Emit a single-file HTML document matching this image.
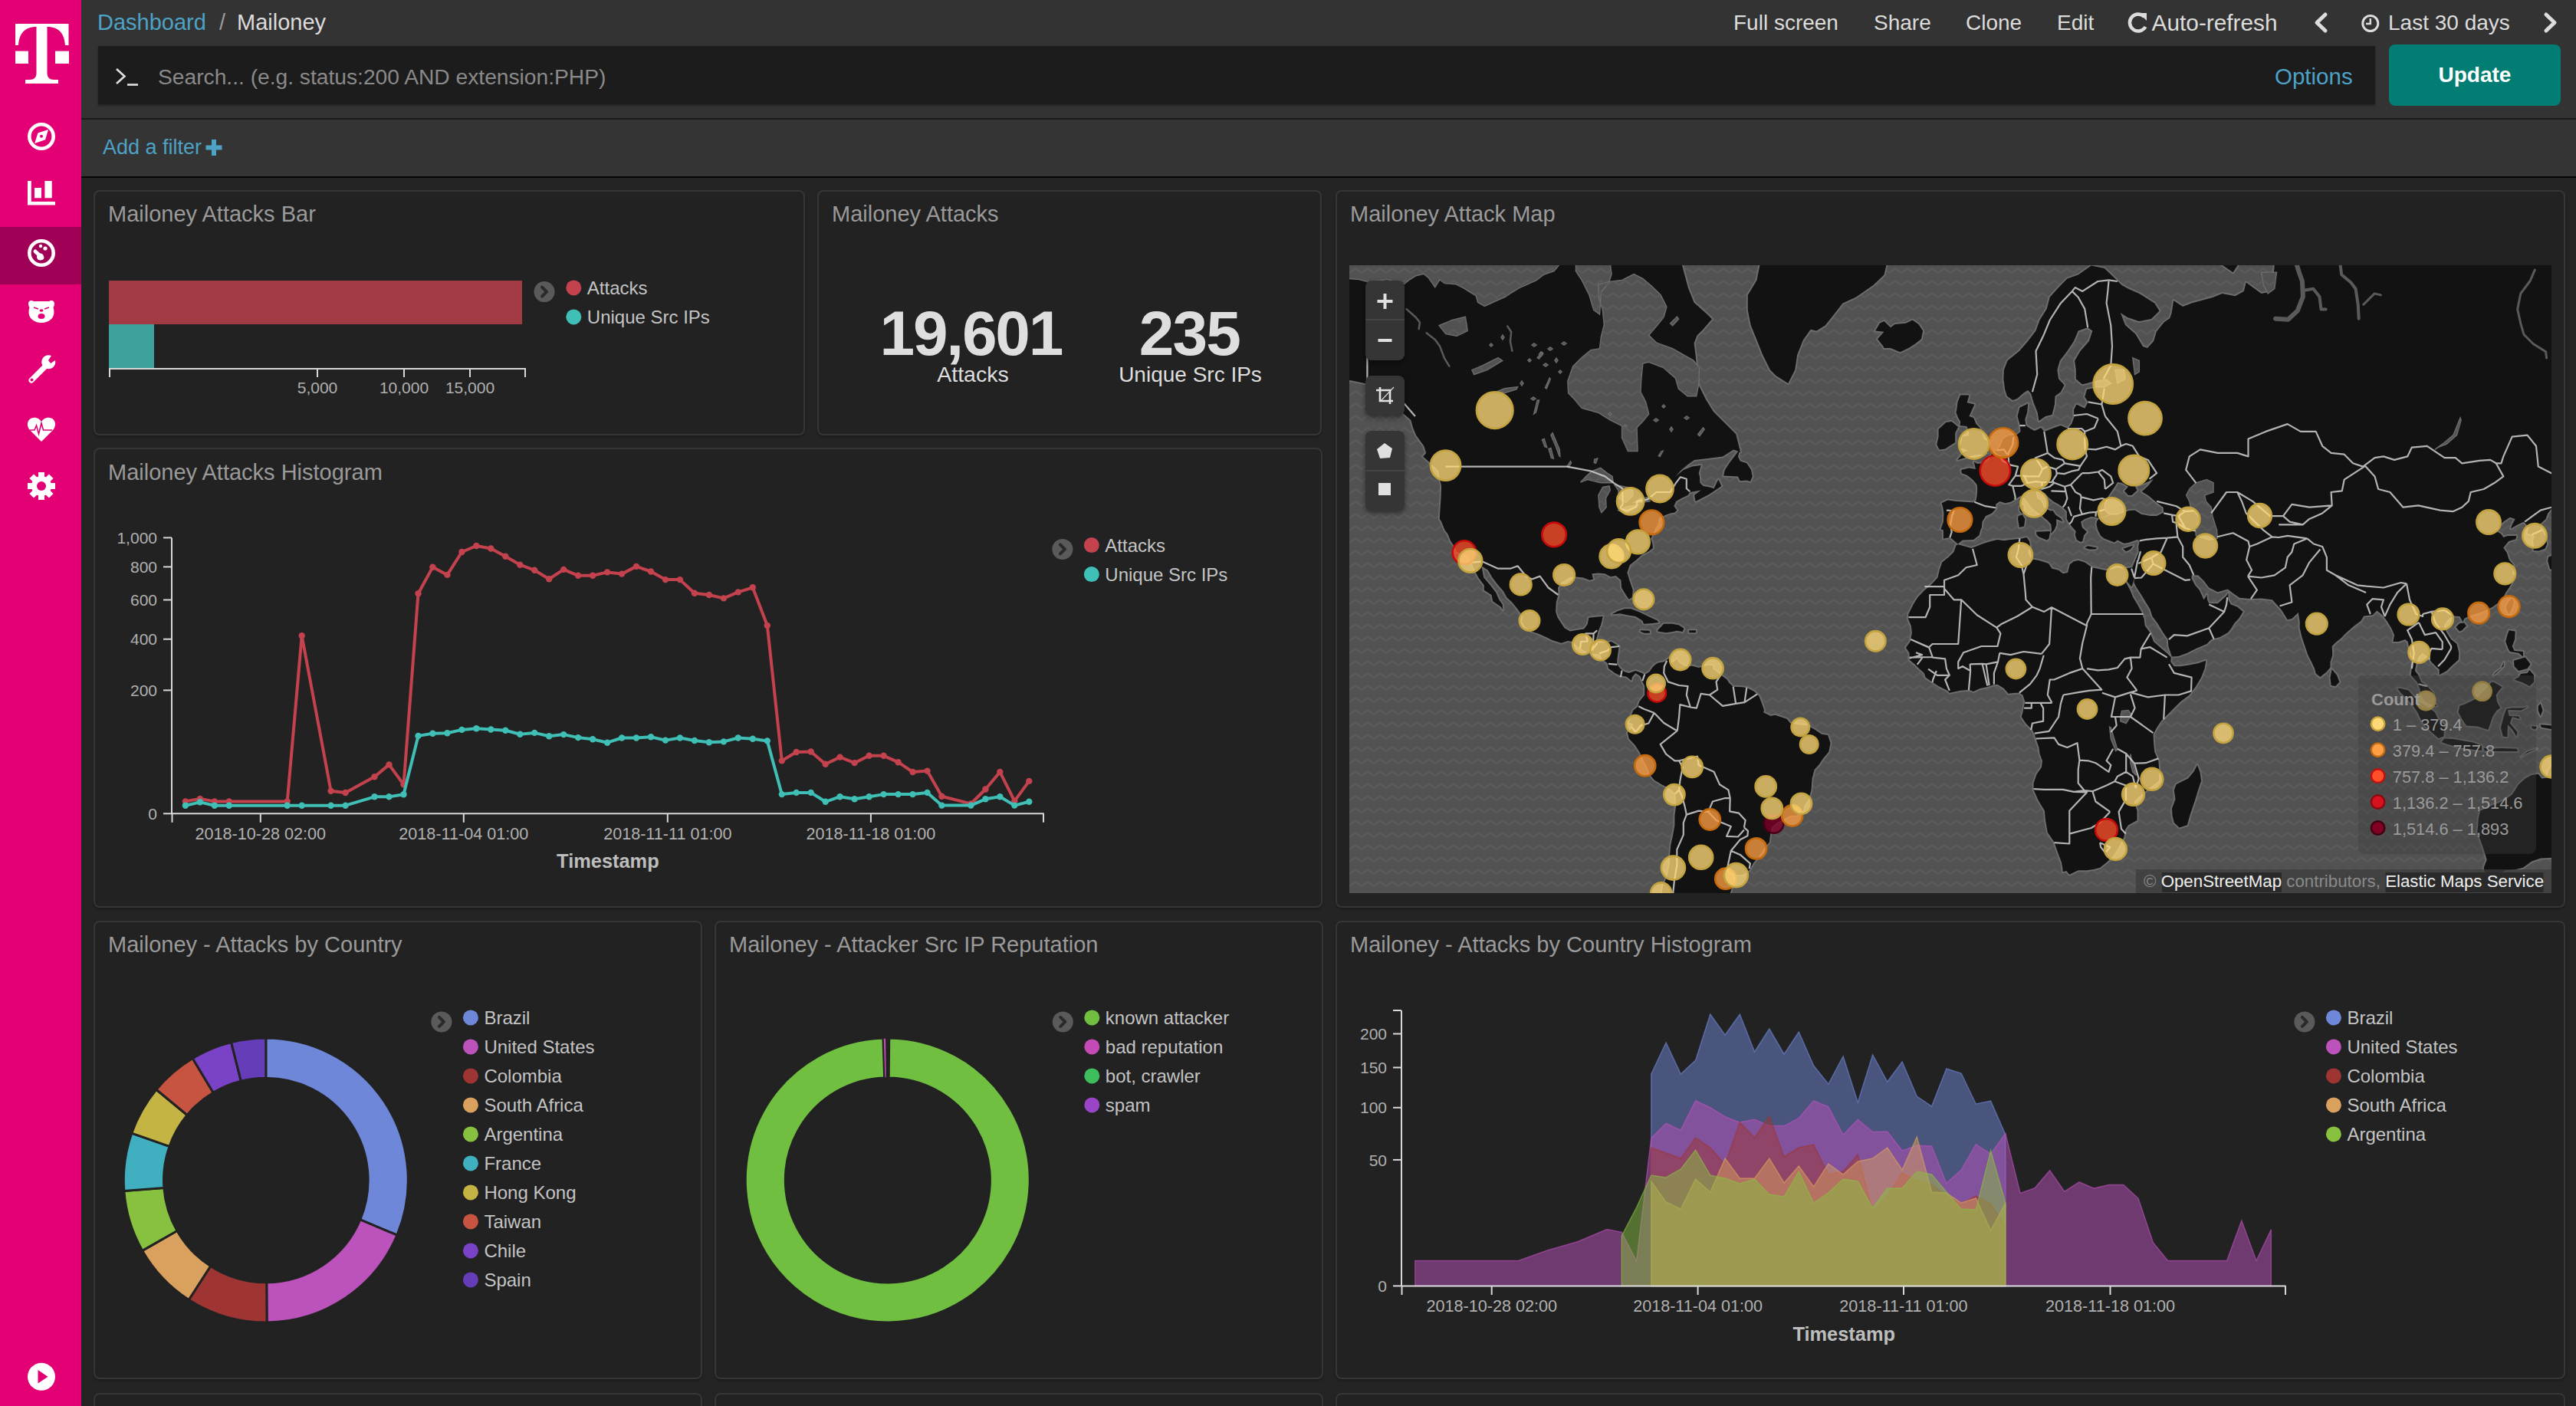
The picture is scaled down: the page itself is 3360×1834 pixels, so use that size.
<!DOCTYPE html><html><head><meta charset="utf-8"><title>Mailoney - Dashboard</title><style>
*{margin:0;padding:0;box-sizing:border-box}
html,body{width:3360px;height:1834px;overflow:hidden;background:#242424;font-family:"Liberation Sans",sans-serif}
.a{position:absolute}
.t{position:absolute;line-height:1;white-space:nowrap}
.panel{position:absolute;border:2px solid #363636;border-radius:8px;background:#222;box-shadow:0 2px 3px rgba(0,0,0,0.25)}
svg{position:absolute;overflow:visible}
svg text{font-family:"Liberation Sans",sans-serif}
</style></head><body>
<div class="a" style="left:106px;top:0;width:3254px;height:154px;background:#333"></div>
<div class="a" style="left:106px;top:154px;width:3254px;height:2px;background:#1c1c1c"></div>
<div class="a" style="left:106px;top:156px;width:3254px;height:74px;background:#343434"></div>
<div class="a" style="left:106px;top:230px;width:3254px;height:2px;background:#050505"></div>
<div class="t" style="left:127.0px;top:15.4px;font-size:29px;color:#4da2c6;">Dashboard</div>
<div class="t" style="left:286.0px;top:15.4px;font-size:29px;color:#9a9a9a;">/</div>
<div class="t" style="left:309.0px;top:15.4px;font-size:29px;color:#dcdcdc;">Mailoney</div>
<div class="t" style="left:2261.0px;top:16.3px;font-size:28px;color:#dcdcdc;">Full screen</div>
<div class="t" style="left:2444.0px;top:16.3px;font-size:28px;color:#dcdcdc;">Share</div>
<div class="t" style="left:2564.0px;top:16.3px;font-size:28px;color:#dcdcdc;">Clone</div>
<div class="t" style="left:2683.0px;top:16.3px;font-size:28px;color:#dcdcdc;">Edit</div>
<div class="t" style="left:2806.6px;top:14.8px;font-size:29.8px;color:#dcdcdc;">Auto-refresh</div>
<div class="t" style="left:3115.0px;top:16.3px;font-size:28px;color:#dcdcdc;">Last 30 days</div>
<svg style="left:0;top:0" width="3360" height="60"><path d="M2797,22 A11,11 0 1 0 2798.5,35" stroke="#dcdcdc" stroke-width="4.5" fill="none"/><path d="M2790,17 L2800,17 L2800,27 Z" fill="#dcdcdc"/><path d="M3033,19 L3022,29.5 L3033,40" stroke="#dcdcdc" stroke-width="5" fill="none" stroke-linecap="round" stroke-linejoin="round"/><circle cx="3091.8" cy="30.5" r="10" stroke="#dcdcdc" stroke-width="3" fill="none"/><path d="M3091.8,24 V31 H3086" stroke="#dcdcdc" stroke-width="2.5" fill="none"/><path d="M3321,19 L3332,29.5 L3321,40" stroke="#dcdcdc" stroke-width="5" fill="none" stroke-linecap="round" stroke-linejoin="round"/></svg>
<div class="a" style="left:128px;top:60px;width:2970px;height:76px;background:#1c1c1c;box-shadow:0 2px 3px rgba(0,0,0,0.35)"></div>
<svg style="left:0;top:0" width="400" height="140"><path d="M152,90 L162.5,99.5 L152,109" stroke="#e0e0e0" stroke-width="2.6" fill="none"/><path d="M166,110.5 H180" stroke="#e0e0e0" stroke-width="2.6"/></svg>
<div class="t" style="left:206.0px;top:86.1px;font-size:28.2px;color:#8a8a8a;">Search... (e.g. status:200 AND extension:PHP)</div>
<div class="t" style="left:2967.0px;top:84.5px;font-size:29.5px;color:#4da2c6;">Options</div>
<div class="a" style="left:3116px;top:58px;width:224px;height:80px;background:#017d73;border-radius:8px"></div>
<div class="t" style="left:2728.0px;width:1000px;text-align:center;top:83.9px;font-size:28px;color:#ffffff;font-weight:700;">Update</div>
<div class="t" style="left:134.0px;top:178.8px;font-size:27px;color:#4da2c6;">Add a filter</div>
<svg style="left:0;top:0" width="400" height="240"><path d="M279,182 V203 M268.5,192.5 H289.5" stroke="#4da2c6" stroke-width="6"/></svg>
<div class="a" style="left:0;top:0;width:106px;height:1834px;background:#e20074"></div>
<div class="a" style="left:0;top:296px;width:106px;height:75px;background:#a00055"></div>
<svg style="left:0;top:0" width="106" height="1834"><g fill="#fff"><path d="M20,31 H89.5 V59 H85 C84,45 78,35 61.5,35 V95 C61.5,101 64.5,104 70.5,104 H76 V109 H33 V104 H38.5 C44.5,104 47.5,101 47.5,95 V35 C31,35 25,45 24,59 H20 Z"/><rect x="20" y="66.6" width="17" height="16.4"/><rect x="72" y="66.6" width="18" height="16.4"/></g><circle cx="54" cy="178" r="15.7" stroke="#fff" stroke-width="4.6" fill="none"/><path d="M45.2,187 L49.4,173.6 L63,169.1 L59.1,182.3 Z" fill="#fff"/><circle cx="54" cy="177.8" r="2" fill="#e20074"/><path d="M36,236 H40.8 V263 H72 V267.6 H36 Z" fill="#fff"/><rect x="45" y="245" width="9" height="13.3" fill="#fff"/><rect x="58.4" y="236" width="9.3" height="22.3" fill="#fff"/><circle cx="54" cy="330" r="15.7" stroke="#fff" stroke-width="4.6" fill="none"/><path d="M46,328 L55,336" stroke="#fff" stroke-width="5" stroke-linecap="round"/><circle cx="52.5" cy="335" r="4.5" fill="#fff"/><circle cx="59" cy="324" r="2.6" fill="#fff"/><circle cx="53" cy="321" r="2.2" fill="#fff"/><path d="M37,396 C37,392 41,391 44,393 L64,393 C67,391 71,392 71,396 C71,399 70,400 69.5,401 C71,406 71,412 67,416 C63,420 58,421 54,421 C50,421 45,420 41,416 C37,412 37,406 38.5,401 C38,400 37,399 37,396 Z" fill="#fff"/><path d="M44,401 L50,403 M64,401 L58,403" stroke="#e20074" stroke-width="1.8"/><ellipse cx="54" cy="405" rx="2.5" ry="1.8" fill="#e20074"/><ellipse cx="54" cy="412.5" rx="4.5" ry="3.5" fill="#e20074"/><path d="M41,496 L60,477" stroke="#fff" stroke-width="7" stroke-linecap="round"/><path d="M72,470 A9,9 0 1 1 67,464 L63,470 L66,474 Z" fill="#fff"/><circle cx="41.5" cy="495.5" r="2" fill="#e20074"/><path d="M54,576 L39,561 C34,556 35,546 43,545 C48,544 52,547 54,550 C56,547 60,544 65,545 C73,546 74,556 69,561 Z" fill="#fff"/><path d="M39,561 H45 L47.5,555 L50.5,566 L54,552 L56.5,561 H68" stroke="#e20074" stroke-width="1.6" fill="none"/><g transform="translate(54,634)"><circle r="13" fill="#fff"/><rect x="-4" y="-18" width="8" height="8" fill="#fff" transform="rotate(0)"/><rect x="-4" y="-18" width="8" height="8" fill="#fff" transform="rotate(45)"/><rect x="-4" y="-18" width="8" height="8" fill="#fff" transform="rotate(90)"/><rect x="-4" y="-18" width="8" height="8" fill="#fff" transform="rotate(135)"/><rect x="-4" y="-18" width="8" height="8" fill="#fff" transform="rotate(180)"/><rect x="-4" y="-18" width="8" height="8" fill="#fff" transform="rotate(225)"/><rect x="-4" y="-18" width="8" height="8" fill="#fff" transform="rotate(270)"/><rect x="-4" y="-18" width="8" height="8" fill="#fff" transform="rotate(315)"/><circle r="6" fill="#e20074"/></g><circle cx="54" cy="1795.8" r="18" fill="#fff"/><path d="M49.5,1787 L49.5,1804.5 L62.5,1795.8 Z" fill="#e20074"/></svg>
<div class="panel" style="left:122px;top:248px;width:928px;height:320px"></div>
<div class="t" style="left:141.0px;top:265.4px;font-size:29px;color:#9a9a9a;">Mailoney Attacks Bar</div>
<svg style="left:0;top:0" width="1" height="1"><rect x="142" y="366" width="539" height="57" fill="#a23a44"/><rect x="142" y="423" width="59" height="57" fill="#3ea29c"/><path d="M142,481 H686" stroke="#d8d8d8" stroke-width="2"/><path d="M143,480 V492" stroke="#d8d8d8" stroke-width="2"/><path d="M414,480 V492" stroke="#d8d8d8" stroke-width="2"/><path d="M527,480 V492" stroke="#d8d8d8" stroke-width="2"/><path d="M613,480 V492" stroke="#d8d8d8" stroke-width="2"/><path d="M685,480 V492" stroke="#d8d8d8" stroke-width="2"/><text x="414.0" y="513.0" font-size="21" fill="#b0b0b0" text-anchor="middle">5,000</text><text x="527.0" y="513.0" font-size="21" fill="#b0b0b0" text-anchor="middle">10,000</text><text x="613.0" y="513.0" font-size="21" fill="#b0b0b0" text-anchor="middle">15,000</text><circle cx="710" cy="380.6" r="13.5" fill="#5a5a5a"/><path d="M707,374.6 L713,380.6 L707,386.6" stroke="#2a2a2a" stroke-width="4" fill="none" stroke-linecap="round" stroke-linejoin="round"/><circle cx="748.3" cy="375.4" r="10" fill="#c4424e"/><text x="765.8" y="383.8" font-size="24" fill="#c4c4c4">Attacks</text><circle cx="748.3" cy="413.4" r="10" fill="#3fbfb5"/><text x="765.8" y="421.8" font-size="24" fill="#c4c4c4">Unique Src IPs</text></svg>
<div class="panel" style="left:1066px;top:248px;width:658px;height:320px"></div>
<div class="t" style="left:1085.0px;top:265.4px;font-size:29px;color:#9a9a9a;">Mailoney Attacks</div>
<div class="t" style="left:766.3px;width:1000px;text-align:center;top:394.2px;font-size:82px;color:#dedede;font-weight:700;letter-spacing:-2.2px;">19,601</div>
<div class="t" style="left:769.0px;width:1000px;text-align:center;top:474.4px;font-size:28.5px;color:#dedede;">Attacks</div>
<div class="t" style="left:1051.4px;width:1000px;text-align:center;top:394.2px;font-size:82px;color:#dedede;font-weight:700;letter-spacing:-1.9px;">235</div>
<div class="t" style="left:1052.5px;width:1000px;text-align:center;top:474.8px;font-size:28px;color:#dedede;">Unique Src IPs</div>
<div class="panel" style="left:122px;top:584px;width:1603px;height:600px"></div>
<div class="t" style="left:141.0px;top:602.4px;font-size:29px;color:#9a9a9a;">Mailoney Attacks Histogram</div>
<svg style="left:0;top:0" width="1" height="1"><path d="M224,1061.3 H1361.7 M224,701.4 V1061.3" stroke="#d8d8d8" stroke-width="2" fill="none"/><path d="M213,701.4 H224" stroke="#d8d8d8" stroke-width="2"/><text x="205.0" y="709.0" font-size="21" fill="#b0b0b0" text-anchor="end">1,000</text><path d="M213,739.4 H224" stroke="#d8d8d8" stroke-width="2"/><text x="205.0" y="747.0" font-size="21" fill="#b0b0b0" text-anchor="end">800</text><path d="M213,782.5 H224" stroke="#d8d8d8" stroke-width="2"/><text x="205.0" y="790.1" font-size="21" fill="#b0b0b0" text-anchor="end">600</text><path d="M213,833.7 H224" stroke="#d8d8d8" stroke-width="2"/><text x="205.0" y="841.3" font-size="21" fill="#b0b0b0" text-anchor="end">400</text><path d="M213,900.4 H224" stroke="#d8d8d8" stroke-width="2"/><text x="205.0" y="908.0" font-size="21" fill="#b0b0b0" text-anchor="end">200</text><path d="M213,1061.3 H224" stroke="#d8d8d8" stroke-width="2"/><text x="205.0" y="1068.9" font-size="21" fill="#b0b0b0" text-anchor="end">0</text><path d="M224.5,1061.3 V1072.8" stroke="#d8d8d8" stroke-width="2"/><path d="M339.8,1061.3 V1072.8" stroke="#d8d8d8" stroke-width="2"/><path d="M604.8,1061.3 V1072.8" stroke="#d8d8d8" stroke-width="2"/><path d="M870.8,1061.3 V1072.8" stroke="#d8d8d8" stroke-width="2"/><path d="M1135.9,1061.3 V1072.8" stroke="#d8d8d8" stroke-width="2"/><path d="M1361,1061.3 V1072.8" stroke="#d8d8d8" stroke-width="2"/><text x="339.8" y="1094.8" font-size="21.6" fill="#b0b0b0" text-anchor="middle">2018-10-28 02:00</text><text x="604.8" y="1094.8" font-size="21.6" fill="#b0b0b0" text-anchor="middle">2018-11-04 01:00</text><text x="870.8" y="1094.8" font-size="21.6" fill="#b0b0b0" text-anchor="middle">2018-11-11 01:00</text><text x="1135.9" y="1094.8" font-size="21.6" fill="#b0b0b0" text-anchor="middle">2018-11-18 01:00</text><text x="792.9" y="1132.3" font-size="25.4" fill="#bdbdbd" text-anchor="middle" font-weight="700">Timestamp</text><polyline points="241.9,1045.4 260.9,1041.9 279.8,1045.4 298.8,1045.4 374.7,1045.4 393.7,829.3 431.6,1031.8 450.6,1034.0 488.5,1013.2 507.5,997.4 526.5,1023.4 545.5,774.2 564.4,739.8 583.4,749.9 602.4,720.0 621.3,712.0 640.3,715.5 659.3,725.7 678.3,736.7 697.2,743.8 716.2,755.2 735.2,742.9 754.1,750.8 773.1,750.8 792.1,746.4 811.1,748.6 830.0,738.9 849.0,745.5 868.0,756.1 886.9,756.1 905.9,773.8 924.9,776.0 943.9,780.4 962.8,772.4 981.8,766.3 1000.8,816.0 1019.8,992.4 1038.7,981.0 1057.7,980.5 1076.7,996.8 1095.6,987.6 1114.6,995.1 1133.6,985.8 1152.6,985.8 1171.5,994.2 1190.5,1007.0 1209.5,1005.6 1228.4,1038.7 1266.4,1048.4 1285.4,1029.5 1304.3,1007.0 1323.3,1044.9 1342.3,1018.9" stroke="#c4424e" stroke-width="4" fill="none" stroke-linejoin="round"/><circle cx="241.9" cy="1045.4" r="4.2" fill="#c4424e"/><circle cx="260.9" cy="1041.9" r="4.2" fill="#c4424e"/><circle cx="279.8" cy="1045.4" r="4.2" fill="#c4424e"/><circle cx="298.8" cy="1045.4" r="4.2" fill="#c4424e"/><circle cx="374.7" cy="1045.4" r="4.2" fill="#c4424e"/><circle cx="393.7" cy="829.3" r="4.2" fill="#c4424e"/><circle cx="431.6" cy="1031.8" r="4.2" fill="#c4424e"/><circle cx="450.6" cy="1034.0" r="4.2" fill="#c4424e"/><circle cx="488.5" cy="1013.2" r="4.2" fill="#c4424e"/><circle cx="507.5" cy="997.4" r="4.2" fill="#c4424e"/><circle cx="526.5" cy="1023.4" r="4.2" fill="#c4424e"/><circle cx="545.5" cy="774.2" r="4.2" fill="#c4424e"/><circle cx="564.4" cy="739.8" r="4.2" fill="#c4424e"/><circle cx="583.4" cy="749.9" r="4.2" fill="#c4424e"/><circle cx="602.4" cy="720.0" r="4.2" fill="#c4424e"/><circle cx="621.3" cy="712.0" r="4.2" fill="#c4424e"/><circle cx="640.3" cy="715.5" r="4.2" fill="#c4424e"/><circle cx="659.3" cy="725.7" r="4.2" fill="#c4424e"/><circle cx="678.3" cy="736.7" r="4.2" fill="#c4424e"/><circle cx="697.2" cy="743.8" r="4.2" fill="#c4424e"/><circle cx="716.2" cy="755.2" r="4.2" fill="#c4424e"/><circle cx="735.2" cy="742.9" r="4.2" fill="#c4424e"/><circle cx="754.1" cy="750.8" r="4.2" fill="#c4424e"/><circle cx="773.1" cy="750.8" r="4.2" fill="#c4424e"/><circle cx="792.1" cy="746.4" r="4.2" fill="#c4424e"/><circle cx="811.1" cy="748.6" r="4.2" fill="#c4424e"/><circle cx="830.0" cy="738.9" r="4.2" fill="#c4424e"/><circle cx="849.0" cy="745.5" r="4.2" fill="#c4424e"/><circle cx="868.0" cy="756.1" r="4.2" fill="#c4424e"/><circle cx="886.9" cy="756.1" r="4.2" fill="#c4424e"/><circle cx="905.9" cy="773.8" r="4.2" fill="#c4424e"/><circle cx="924.9" cy="776.0" r="4.2" fill="#c4424e"/><circle cx="943.9" cy="780.4" r="4.2" fill="#c4424e"/><circle cx="962.8" cy="772.4" r="4.2" fill="#c4424e"/><circle cx="981.8" cy="766.3" r="4.2" fill="#c4424e"/><circle cx="1000.8" cy="816.0" r="4.2" fill="#c4424e"/><circle cx="1019.8" cy="992.4" r="4.2" fill="#c4424e"/><circle cx="1038.7" cy="981.0" r="4.2" fill="#c4424e"/><circle cx="1057.7" cy="980.5" r="4.2" fill="#c4424e"/><circle cx="1076.7" cy="996.8" r="4.2" fill="#c4424e"/><circle cx="1095.6" cy="987.6" r="4.2" fill="#c4424e"/><circle cx="1114.6" cy="995.1" r="4.2" fill="#c4424e"/><circle cx="1133.6" cy="985.8" r="4.2" fill="#c4424e"/><circle cx="1152.6" cy="985.8" r="4.2" fill="#c4424e"/><circle cx="1171.5" cy="994.2" r="4.2" fill="#c4424e"/><circle cx="1190.5" cy="1007.0" r="4.2" fill="#c4424e"/><circle cx="1209.5" cy="1005.6" r="4.2" fill="#c4424e"/><circle cx="1228.4" cy="1038.7" r="4.2" fill="#c4424e"/><circle cx="1266.4" cy="1048.4" r="4.2" fill="#c4424e"/><circle cx="1285.4" cy="1029.5" r="4.2" fill="#c4424e"/><circle cx="1304.3" cy="1007.0" r="4.2" fill="#c4424e"/><circle cx="1323.3" cy="1044.9" r="4.2" fill="#c4424e"/><circle cx="1342.3" cy="1018.9" r="4.2" fill="#c4424e"/><polyline points="241.9,1050.7 260.9,1046.3 279.8,1050.7 298.8,1050.7 374.7,1050.7 393.7,1050.7 431.6,1050.7 450.6,1050.7 488.5,1039.3 507.5,1039.3 526.5,1036.2 545.5,959.9 564.4,956.8 583.4,956.3 602.4,951.9 621.3,950.2 640.3,951.5 659.3,952.8 678.3,957.7 697.2,955.9 716.2,960.3 735.2,958.1 754.1,962.1 773.1,964.3 792.1,968.7 811.1,962.5 830.0,962.5 849.0,961.2 868.0,965.6 886.9,962.5 905.9,966.0 924.9,968.2 943.9,967.4 962.8,962.5 981.8,963.8 1000.8,966.4 1019.8,1036.1 1038.7,1033.9 1057.7,1033.9 1076.7,1045.8 1095.6,1039.2 1114.6,1042.3 1133.6,1039.2 1152.6,1036.1 1171.5,1036.1 1190.5,1036.1 1209.5,1033.9 1228.4,1050.6 1266.4,1050.6 1285.4,1042.3 1304.3,1039.2 1323.3,1050.6 1342.3,1045.8" stroke="#3fbfb5" stroke-width="4" fill="none" stroke-linejoin="round"/><circle cx="241.9" cy="1050.7" r="4.2" fill="#3fbfb5"/><circle cx="260.9" cy="1046.3" r="4.2" fill="#3fbfb5"/><circle cx="279.8" cy="1050.7" r="4.2" fill="#3fbfb5"/><circle cx="298.8" cy="1050.7" r="4.2" fill="#3fbfb5"/><circle cx="374.7" cy="1050.7" r="4.2" fill="#3fbfb5"/><circle cx="393.7" cy="1050.7" r="4.2" fill="#3fbfb5"/><circle cx="431.6" cy="1050.7" r="4.2" fill="#3fbfb5"/><circle cx="450.6" cy="1050.7" r="4.2" fill="#3fbfb5"/><circle cx="488.5" cy="1039.3" r="4.2" fill="#3fbfb5"/><circle cx="507.5" cy="1039.3" r="4.2" fill="#3fbfb5"/><circle cx="526.5" cy="1036.2" r="4.2" fill="#3fbfb5"/><circle cx="545.5" cy="959.9" r="4.2" fill="#3fbfb5"/><circle cx="564.4" cy="956.8" r="4.2" fill="#3fbfb5"/><circle cx="583.4" cy="956.3" r="4.2" fill="#3fbfb5"/><circle cx="602.4" cy="951.9" r="4.2" fill="#3fbfb5"/><circle cx="621.3" cy="950.2" r="4.2" fill="#3fbfb5"/><circle cx="640.3" cy="951.5" r="4.2" fill="#3fbfb5"/><circle cx="659.3" cy="952.8" r="4.2" fill="#3fbfb5"/><circle cx="678.3" cy="957.7" r="4.2" fill="#3fbfb5"/><circle cx="697.2" cy="955.9" r="4.2" fill="#3fbfb5"/><circle cx="716.2" cy="960.3" r="4.2" fill="#3fbfb5"/><circle cx="735.2" cy="958.1" r="4.2" fill="#3fbfb5"/><circle cx="754.1" cy="962.1" r="4.2" fill="#3fbfb5"/><circle cx="773.1" cy="964.3" r="4.2" fill="#3fbfb5"/><circle cx="792.1" cy="968.7" r="4.2" fill="#3fbfb5"/><circle cx="811.1" cy="962.5" r="4.2" fill="#3fbfb5"/><circle cx="830.0" cy="962.5" r="4.2" fill="#3fbfb5"/><circle cx="849.0" cy="961.2" r="4.2" fill="#3fbfb5"/><circle cx="868.0" cy="965.6" r="4.2" fill="#3fbfb5"/><circle cx="886.9" cy="962.5" r="4.2" fill="#3fbfb5"/><circle cx="905.9" cy="966.0" r="4.2" fill="#3fbfb5"/><circle cx="924.9" cy="968.2" r="4.2" fill="#3fbfb5"/><circle cx="943.9" cy="967.4" r="4.2" fill="#3fbfb5"/><circle cx="962.8" cy="962.5" r="4.2" fill="#3fbfb5"/><circle cx="981.8" cy="963.8" r="4.2" fill="#3fbfb5"/><circle cx="1000.8" cy="966.4" r="4.2" fill="#3fbfb5"/><circle cx="1019.8" cy="1036.1" r="4.2" fill="#3fbfb5"/><circle cx="1038.7" cy="1033.9" r="4.2" fill="#3fbfb5"/><circle cx="1057.7" cy="1033.9" r="4.2" fill="#3fbfb5"/><circle cx="1076.7" cy="1045.8" r="4.2" fill="#3fbfb5"/><circle cx="1095.6" cy="1039.2" r="4.2" fill="#3fbfb5"/><circle cx="1114.6" cy="1042.3" r="4.2" fill="#3fbfb5"/><circle cx="1133.6" cy="1039.2" r="4.2" fill="#3fbfb5"/><circle cx="1152.6" cy="1036.1" r="4.2" fill="#3fbfb5"/><circle cx="1171.5" cy="1036.1" r="4.2" fill="#3fbfb5"/><circle cx="1190.5" cy="1036.1" r="4.2" fill="#3fbfb5"/><circle cx="1209.5" cy="1033.9" r="4.2" fill="#3fbfb5"/><circle cx="1228.4" cy="1050.6" r="4.2" fill="#3fbfb5"/><circle cx="1266.4" cy="1050.6" r="4.2" fill="#3fbfb5"/><circle cx="1285.4" cy="1042.3" r="4.2" fill="#3fbfb5"/><circle cx="1304.3" cy="1039.2" r="4.2" fill="#3fbfb5"/><circle cx="1323.3" cy="1050.6" r="4.2" fill="#3fbfb5"/><circle cx="1342.3" cy="1045.8" r="4.2" fill="#3fbfb5"/><circle cx="1385.9" cy="716.4" r="13.5" fill="#5a5a5a"/><path d="M1382.9,710.4 L1388.9,716.4 L1382.9,722.4" stroke="#2a2a2a" stroke-width="4" fill="none" stroke-linecap="round" stroke-linejoin="round"/><circle cx="1423.8" cy="711.1" r="10" fill="#c4424e"/><text x="1441.3" y="719.5" font-size="24" fill="#c4c4c4">Attacks</text><circle cx="1423.8" cy="749.1" r="10" fill="#3fbfb5"/><text x="1441.3" y="757.5" font-size="24" fill="#c4c4c4">Unique Src IPs</text></svg>
<div class="panel" style="left:122px;top:1201px;width:794px;height:598px"></div>
<div class="t" style="left:141.0px;top:1218.4px;font-size:29px;color:#9a9a9a;">Mailoney - Attacks by Country</div>
<svg style="left:0;top:0" width="1" height="1"><path d="M346.80,1354.00 A185.5,185.5 0 0 1 517.93,1611.09 L469.77,1590.94 A133.3,133.3 0 0 0 346.80,1406.20 Z" fill="#6f87d8" stroke="#222" stroke-width="3"/><path d="M517.93,1611.09 A185.5,185.5 0 0 1 348.10,1725.00 L347.73,1672.80 A133.3,133.3 0 0 0 469.77,1590.94 Z" fill="#bc52bc" stroke="#222" stroke-width="3"/><path d="M348.10,1725.00 A185.5,185.5 0 0 1 246.31,1695.43 L274.59,1651.55 A133.3,133.3 0 0 0 347.73,1672.80 Z" fill="#9e3533" stroke="#222" stroke-width="3"/><path d="M246.31,1695.43 A185.5,185.5 0 0 1 185.67,1631.41 L231.01,1605.54 A133.3,133.3 0 0 0 274.59,1651.55 Z" fill="#daa05d" stroke="#222" stroke-width="3"/><path d="M185.67,1631.41 A185.5,185.5 0 0 1 161.82,1553.41 L213.88,1549.49 A133.3,133.3 0 0 0 231.01,1605.54 Z" fill="#88c040" stroke="#222" stroke-width="3"/><path d="M161.82,1553.41 A185.5,185.5 0 0 1 171.72,1478.19 L220.99,1495.44 A133.3,133.3 0 0 0 213.88,1549.49 Z" fill="#40b0c0" stroke="#222" stroke-width="3"/><path d="M171.72,1478.19 A185.5,185.5 0 0 1 203.87,1421.26 L244.09,1454.53 A133.3,133.3 0 0 0 220.99,1495.44 Z" fill="#c4b443" stroke="#222" stroke-width="3"/><path d="M203.87,1421.26 A185.5,185.5 0 0 1 251.26,1380.50 L278.15,1425.24 A133.3,133.3 0 0 0 244.09,1454.53 Z" fill="#c65440" stroke="#222" stroke-width="3"/><path d="M251.26,1380.50 A185.5,185.5 0 0 1 301.61,1359.59 L314.33,1410.22 A133.3,133.3 0 0 0 278.15,1425.24 Z" fill="#7a42c6" stroke="#222" stroke-width="3"/><path d="M301.61,1359.59 A185.5,185.5 0 0 1 346.80,1354.00 L346.80,1406.20 A133.3,133.3 0 0 0 314.33,1410.22 Z" fill="#663db8" stroke="#222" stroke-width="3"/><circle cx="575.9" cy="1332.9" r="13.5" fill="#5a5a5a"/><path d="M572.9,1326.9 L578.9,1332.9 L572.9,1338.9" stroke="#2a2a2a" stroke-width="4" fill="none" stroke-linecap="round" stroke-linejoin="round"/><circle cx="613.9" cy="1327.4" r="10" fill="#6f87d8"/><text x="631.4" y="1335.8" font-size="24" fill="#c4c4c4">Brazil</text><circle cx="613.9" cy="1365.4" r="10" fill="#bc52bc"/><text x="631.4" y="1373.8" font-size="24" fill="#c4c4c4">United States</text><circle cx="613.9" cy="1403.4" r="10" fill="#9e3533"/><text x="631.4" y="1411.8" font-size="24" fill="#c4c4c4">Colombia</text><circle cx="613.9" cy="1441.4" r="10" fill="#daa05d"/><text x="631.4" y="1449.8" font-size="24" fill="#c4c4c4">South Africa</text><circle cx="613.9" cy="1479.4" r="10" fill="#88c040"/><text x="631.4" y="1487.8" font-size="24" fill="#c4c4c4">Argentina</text><circle cx="613.9" cy="1517.4" r="10" fill="#40b0c0"/><text x="631.4" y="1525.8" font-size="24" fill="#c4c4c4">France</text><circle cx="613.9" cy="1555.4" r="10" fill="#c4b443"/><text x="631.4" y="1563.8" font-size="24" fill="#c4c4c4">Hong Kong</text><circle cx="613.9" cy="1593.4" r="10" fill="#c65440"/><text x="631.4" y="1601.8" font-size="24" fill="#c4c4c4">Taiwan</text><circle cx="613.9" cy="1631.4" r="10" fill="#7a42c6"/><text x="631.4" y="1639.8" font-size="24" fill="#c4c4c4">Chile</text><circle cx="613.9" cy="1669.4" r="10" fill="#663db8"/><text x="631.4" y="1677.8" font-size="24" fill="#c4c4c4">Spain</text></svg>
<div class="panel" style="left:932px;top:1201px;width:794px;height:598px"></div>
<div class="t" style="left:951.0px;top:1218.4px;font-size:29px;color:#9a9a9a;">Mailoney - Attacker Src IP Reputation</div>
<svg style="left:0;top:0" width="1" height="1"><path d="M1159.74,1353.91 A185.5,185.5 0 1 1 1151.97,1353.99 L1153.61,1405.97 A133.5,133.5 0 1 0 1159.20,1405.91 Z" fill="#70bf41" stroke="#222" stroke-width="3"/><path d="M1151.97,1353.99 A185.5,185.5 0 0 1 1155.86,1353.91 L1156.40,1405.91 A133.5,133.5 0 0 0 1153.61,1405.97 Z" fill="#c44ab5" stroke="#222" stroke-width="1.5"/><circle cx="1386.3" cy="1332.9" r="13.5" fill="#5a5a5a"/><path d="M1383.3,1326.9 L1389.3,1332.9 L1383.3,1338.9" stroke="#2a2a2a" stroke-width="4" fill="none" stroke-linecap="round" stroke-linejoin="round"/><circle cx="1424.3" cy="1327.4" r="10" fill="#70bf41"/><text x="1441.8" y="1335.8" font-size="24" fill="#c4c4c4">known attacker</text><circle cx="1424.3" cy="1365.4" r="10" fill="#c44ab5"/><text x="1441.8" y="1373.8" font-size="24" fill="#c4c4c4">bad reputation</text><circle cx="1424.3" cy="1403.4" r="10" fill="#3dbd5c"/><text x="1441.8" y="1411.8" font-size="24" fill="#c4c4c4">bot, crawler</text><circle cx="1424.3" cy="1441.4" r="10" fill="#9a44c8"/><text x="1441.8" y="1449.8" font-size="24" fill="#c4c4c4">spam</text></svg>
<div class="panel" style="left:1742px;top:1201px;width:1604px;height:598px"></div>
<div class="t" style="left:1761.0px;top:1218.4px;font-size:29px;color:#9a9a9a;">Mailoney - Attacks by Country Histogram</div>
<svg style="left:0;top:0" width="1" height="1"><polygon points="2153.8,1677.4 2153.8,1401.0 2173.1,1360.0 2192.3,1401.0 2211.6,1383.0 2230.8,1323.0 2250.1,1350.0 2269.3,1323.0 2288.6,1372.0 2307.8,1342.0 2327.1,1375.0 2346.3,1346.0 2365.6,1390.0 2384.8,1414.0 2404.1,1378.0 2423.3,1438.0 2442.6,1376.0 2461.8,1411.0 2481.1,1385.0 2500.3,1430.0 2519.6,1443.0 2538.8,1394.0 2558.1,1400.0 2577.3,1440.0 2596.6,1436.0 2615.8,1480.0 2615.8,1677.4" fill="#6f87d8" fill-opacity="0.5" stroke="#6f87d8" stroke-opacity="0.6" stroke-width="1.5"/><polygon points="1845.8,1677.4 1845.8,1644.4 1980.5,1644.4 2019.0,1630.7 2057.6,1619.7 2096.1,1603.6 2115.3,1607.3 2134.6,1645.0 2153.8,1484.4 2173.1,1465.5 2192.3,1474.1 2211.6,1435.8 2230.8,1444.7 2250.1,1456.6 2269.3,1464.1 2288.6,1460.2 2307.8,1468.6 2327.1,1468.6 2346.3,1458.6 2365.6,1435.8 2384.8,1443.6 2404.1,1480.2 2423.3,1460.2 2442.6,1476.6 2461.8,1476.0 2481.1,1501.0 2500.3,1494.0 2519.6,1494.9 2538.8,1543.4 2558.1,1526.0 2577.3,1492.7 2596.6,1505.2 2615.8,1478.6 2635.1,1556.5 2654.3,1549.6 2673.6,1526.7 2692.8,1554.2 2712.1,1541.8 2731.3,1550.1 2750.6,1545.5 2769.8,1545.5 2789.1,1563.3 2808.3,1620.6 2827.6,1644.4 2904.6,1644.4 2923.8,1592.2 2943.1,1644.4 2962.3,1603.7 2962.3,1677.4" fill="#bc52bc" fill-opacity="0.5" stroke="#bc52bc" stroke-opacity="0.6" stroke-width="1.5"/><polygon points="2153.8,1677.4 2153.8,1497.0 2173.1,1504.0 2192.3,1511.0 2211.6,1484.0 2230.8,1497.0 2250.1,1519.0 2269.3,1464.0 2288.6,1484.0 2307.8,1456.0 2327.1,1509.0 2346.3,1497.0 2365.6,1493.0 2384.8,1532.0 2404.1,1528.0 2423.3,1506.0 2442.6,1580.0 2461.8,1560.0 2481.1,1530.0 2500.3,1540.0 2519.6,1545.0 2538.8,1560.0 2558.1,1570.0 2577.3,1560.0 2596.6,1570.0 2615.8,1600.0 2615.8,1677.4" fill="#9e3533" fill-opacity="0.5" stroke="#9e3533" stroke-opacity="0.6" stroke-width="1.5"/><polygon points="2153.8,1677.4 2153.8,1541.0 2173.1,1568.0 2192.3,1577.0 2211.6,1538.0 2230.8,1555.0 2250.1,1511.0 2269.3,1537.0 2288.6,1537.0 2307.8,1511.0 2327.1,1543.0 2346.3,1521.0 2365.6,1548.0 2384.8,1518.0 2404.1,1532.0 2423.3,1515.0 2442.6,1511.0 2461.8,1497.0 2481.1,1526.0 2500.3,1483.0 2519.6,1555.0 2538.8,1556.0 2558.1,1569.0 2577.3,1563.0 2596.6,1605.0 2615.8,1569.0 2615.8,1677.4" fill="#daa05d" fill-opacity="0.5" stroke="#daa05d" stroke-opacity="0.6" stroke-width="1.5"/><polygon points="2115.3,1677.4 2115.3,1612.0 2134.6,1575.0 2153.8,1533.0 2173.1,1536.0 2192.3,1525.0 2211.6,1500.0 2230.8,1533.0 2250.1,1537.0 2269.3,1544.0 2288.6,1538.0 2307.8,1558.0 2327.1,1561.0 2346.3,1528.0 2365.6,1569.0 2384.8,1556.0 2404.1,1538.0 2423.3,1541.0 2442.6,1576.0 2461.8,1550.0 2481.1,1550.0 2500.3,1528.0 2519.6,1532.0 2538.8,1555.0 2558.1,1577.0 2577.3,1578.0 2596.6,1501.0 2615.8,1569.0 2615.8,1677.4" fill="#88c040" fill-opacity="0.5" stroke="#88c040" stroke-opacity="0.6" stroke-width="1.5"/><path d="M1828,1677.4 H2981.6 M1828,1318.3 V1677.4" stroke="#d8d8d8" stroke-width="2" fill="none"/><path d="M1817,1318.0 H1828" stroke="#d8d8d8" stroke-width="2"/><path d="M1817,1348.5 H1828" stroke="#d8d8d8" stroke-width="2"/><text x="1809.0" y="1356.1" font-size="21" fill="#b0b0b0" text-anchor="end">200</text><path d="M1817,1392.5 H1828" stroke="#d8d8d8" stroke-width="2"/><text x="1809.0" y="1400.1" font-size="21" fill="#b0b0b0" text-anchor="end">150</text><path d="M1817,1444.8 H1828" stroke="#d8d8d8" stroke-width="2"/><text x="1809.0" y="1452.4" font-size="21" fill="#b0b0b0" text-anchor="end">100</text><path d="M1817,1512.9 H1828" stroke="#d8d8d8" stroke-width="2"/><text x="1809.0" y="1520.5" font-size="21" fill="#b0b0b0" text-anchor="end">50</text><path d="M1817,1677.4 H1828" stroke="#d8d8d8" stroke-width="2"/><text x="1809.0" y="1685.0" font-size="21" fill="#b0b0b0" text-anchor="end">0</text><path d="M1828.5,1677.4 V1689" stroke="#d8d8d8" stroke-width="2"/><path d="M1945.7,1677.4 V1689" stroke="#d8d8d8" stroke-width="2"/><path d="M2214.6,1677.4 V1689" stroke="#d8d8d8" stroke-width="2"/><path d="M2483,1677.4 V1689" stroke="#d8d8d8" stroke-width="2"/><path d="M2752.5,1677.4 V1689" stroke="#d8d8d8" stroke-width="2"/><path d="M2981,1677.4 V1689" stroke="#d8d8d8" stroke-width="2"/><text x="1945.7" y="1710.8" font-size="21.6" fill="#b0b0b0" text-anchor="middle">2018-10-28 02:00</text><text x="2214.6" y="1710.8" font-size="21.6" fill="#b0b0b0" text-anchor="middle">2018-11-04 01:00</text><text x="2483.0" y="1710.8" font-size="21.6" fill="#b0b0b0" text-anchor="middle">2018-11-11 01:00</text><text x="2752.5" y="1710.8" font-size="21.6" fill="#b0b0b0" text-anchor="middle">2018-11-18 01:00</text><text x="2405.2" y="1748.9" font-size="25.4" fill="#bdbdbd" text-anchor="middle" font-weight="700">Timestamp</text><circle cx="3005.9" cy="1332.9" r="13.5" fill="#5a5a5a"/><path d="M3002.9,1326.9 L3008.9,1332.9 L3002.9,1338.9" stroke="#2a2a2a" stroke-width="4" fill="none" stroke-linecap="round" stroke-linejoin="round"/><circle cx="3043.9" cy="1327.4" r="10" fill="#6f87d8"/><text x="3061.4" y="1335.8" font-size="24" fill="#c4c4c4">Brazil</text><circle cx="3043.9" cy="1365.4" r="10" fill="#bc52bc"/><text x="3061.4" y="1373.8" font-size="24" fill="#c4c4c4">United States</text><circle cx="3043.9" cy="1403.4" r="10" fill="#9e3533"/><text x="3061.4" y="1411.8" font-size="24" fill="#c4c4c4">Colombia</text><circle cx="3043.9" cy="1441.4" r="10" fill="#daa05d"/><text x="3061.4" y="1449.8" font-size="24" fill="#c4c4c4">South Africa</text><circle cx="3043.9" cy="1479.4" r="10" fill="#88c040"/><text x="3061.4" y="1487.8" font-size="24" fill="#c4c4c4">Argentina</text></svg>
<div class="panel" style="left:122px;top:1817px;width:794px;height:100px"></div>
<div class="panel" style="left:932px;top:1817px;width:794px;height:100px"></div>
<div class="panel" style="left:1742px;top:1817px;width:1604px;height:100px"></div>
<div class="panel" style="left:1742px;top:248px;width:1604px;height:936px"></div>
<div class="t" style="left:1761.0px;top:265.4px;font-size:29px;color:#9a9a9a;">Mailoney Attack Map</div>
<div class="a" style="left:1760px;top:346px;width:1568px;height:819px;overflow:hidden;background:#525252"><svg style="left:0;top:0" width="1568" height="819" viewBox="0 0 1568 819"><defs><pattern id="wv" width="16" height="16" patternUnits="userSpaceOnUse"><path d="M-1,11 L8,4 L17,11" stroke="#5a5a5a" stroke-width="2.2" fill="none"/></pattern></defs><rect width="1568" height="819" fill="url(#wv)"/><path d="M-39.2,-77.6L472.8,-77.6L434.0,0.0L441.8,29.2L449.6,48.7L467.1,64.3L473.0,70.2L461.3,83.8L453.5,91.6L449.6,101.4L451.5,117.0L453.5,136.5L455.4,156.0L465.2,175.4L474.9,191.0L490.5,206.6L504.2,220.3L510.0,243.7L501.2,240.4L487.0,249.4L467.1,252.1L450.0,253.9L441.5,260.0L433.0,266.9L425.6,275.4L435.8,266.9L447.2,262.6L458.6,260.9L455.7,271.2L456.9,275.4L457.4,283.8L461.4,287.9L469.9,289.5L475.6,291.2L481.3,279.6L485.3,287.9L469.9,298.4L451.7,307.9L450.0,300.0L458.6,293.6L444.3,296.0L441.5,300.0L433.0,304.0L426.1,307.9L423.3,314.2L427.3,319.6L424.4,322.6L418.7,323.4L413.1,325.6L405.7,328.7L403.4,330.9L402.8,338.3L399.4,342.7L398.3,345.6L394.9,352.9L393.1,356.4L395.4,363.5L396.0,369.1L390.3,373.3L381.8,377.4L374.4,384.2L365.8,391.0L362.4,401.0L365.3,410.8L369.8,423.7L368.7,433.2L364.7,435.7L360.7,430.0L355.0,420.5L354.5,410.8L347.6,404.9L340.8,406.2L333.4,402.3L324.9,401.6L316.3,402.3L318.1,409.5L313.5,410.8L305.0,407.5L293.6,406.2L286.8,407.5L276.5,414.0L272.0,420.5L272.5,430.0L269.7,439.5L269.1,451.9L271.4,459.2L276.5,467.1L280.5,473.2L287.9,477.4L299.3,475.6L306.1,474.4L310.7,468.3L312.4,459.8L324.9,458.6L330.6,458.0L329.4,464.1L327.7,470.2L324.9,476.8L323.2,483.4L320.9,491.1L323.7,492.3L336.3,492.3L341.9,491.1L351.6,497.0L350.5,505.8L349.3,514.5L349.3,520.3L353.3,526.1L359.0,530.2L364.7,531.9L373.2,529.0L381.8,531.9L385.2,534.2L391.4,530.2L396.0,523.8L400.0,520.3L403.4,518.6L410.2,517.4L417.6,512.2L419.9,516.9L418.2,520.3L425.6,515.7L427.3,513.4L429.6,518.0L437.5,523.2L447.2,522.7L455.7,525.0L467.1,522.1L473.4,522.1L475.1,527.3L484.2,534.2L492.7,540.5L495.0,544.5L500.7,549.7L512.6,550.2L519.4,551.4L528.0,556.0L534.2,561.7L538.2,571.9L541.1,580.5L539.9,583.3L549.6,587.9L555.3,586.7L562.1,589.0L570.6,591.8L575.2,597.5L586.6,599.2L597.9,600.4L607.6,606.1L616.1,611.8L624.1,612.9L627.5,623.2L625.3,634.7L617.9,643.4L612.2,652.1L606.5,657.9L603.6,669.6L602.5,684.4L599.1,696.4L593.4,705.5L592.3,711.6L583.7,717.8L575.2,717.8L566.7,722.8L558.1,727.1L550.7,733.4L549.0,742.9L547.9,752.6L539.9,762.3L533.7,772.3L527.4,779.0L521.7,789.2L513.7,794.7L505.8,795.4L498.4,792.6L493.3,791.3L500.1,797.5L502.4,805.2L498.4,813.7L496.7,819.5L472.8,823.9L471.1,835.7L461.4,847.0L444.3,870.6L398.8,870.6L404.5,847.0L406.2,832.0L407.4,821.0L409.1,810.2L414.8,796.1L417.6,782.4L418.2,768.9L419.3,755.8L422.2,742.9L424.4,730.3L424.4,717.8L426.1,705.5L425.6,693.4L425.0,689.2L418.7,683.2L407.4,677.3L397.7,671.4L391.4,663.7L388.6,655.0L384.0,646.3L378.4,634.7L372.7,626.1L364.7,617.5L363.0,609.5L368.7,603.2L370.4,598.1L364.7,596.4L367.0,589.0L370.4,580.5L376.1,575.9L378.4,569.1L385.2,560.5L385.2,549.1L381.8,541.7L379.5,535.9L373.2,531.9L368.7,537.6L368.1,541.7L361.3,536.5L353.3,535.3L346.5,531.9L341.9,528.4L338.0,526.1L336.8,519.2L328.9,512.8L327.2,507.5L319.2,506.9L307.8,503.4L299.3,498.7L290.7,491.1L285.1,489.9L276.5,492.8L265.1,489.3L256.6,485.1L246.4,480.4L236.7,477.4L229.3,472.0L224.8,464.7L226.5,458.0L219.6,448.8L212.2,439.5L205.4,433.2L200.9,425.0L194.0,417.3L186.6,407.5L180.9,397.7L172.4,392.3L175.3,407.5L183.8,417.3L191.2,426.9L195.2,436.3L199.7,442.6L200.3,449.4L198.0,445.7L187.2,438.2L185.5,430.0L175.8,423.7L175.8,417.3L168.4,407.5L163.3,397.7L159.3,387.6L155.3,380.8L150.8,377.4L140.0,374.0L137.1,367.0L132.0,359.3L128.6,350.7L124.6,345.6L120.1,334.6L117.8,330.9L118.4,319.6L119.5,304.0L120.1,287.9L117.2,275.4L116.1,267.8L105.9,258.3L96.2,249.4L100.2,244.9L97.3,235.8L87.1,221.7L83.1,212.0L80.3,202.1L68.9,191.9L54.7,181.5L46.1,170.7L31.9,159.7L20.5,154.0L3.5,150.6L-7.9,148.3L-19.3,142.5L-36.4,154.0L-84.7,154.0L-84.7,-77.6ZM520.0,-46.0L535.4,0.0L531.5,19.5L519.8,39.0L519.8,58.5L523.6,78.0L531.5,97.5L539.3,117.0L549.0,136.5L556.8,144.3L572.4,154.0L581.2,136.5L584.1,117.0L591.9,97.5L601.6,83.8L609.3,85.5L620.7,78.6L632.1,64.3L643.5,49.4L660.5,41.7L683.3,25.9L697.5,12.6L700.3,0.6L700.3,-17.3L711.7,-77.6ZM697.5,108.1L696.4,105.5L689.0,96.3L697.5,86.8L686.1,85.5L691.8,75.7L697.5,72.9L706.0,81.3L711.7,77.1L725.9,75.7L734.5,71.5L742.4,77.1L748.1,85.5L745.9,96.3L737.3,102.9L729.4,108.1L718.5,113.2L706.0,108.1ZM488.1,274.6L489.9,266.9L495.5,258.3L509.8,239.5L506.9,249.4L509.8,255.6L518.3,258.3L524.0,266.9L525.7,275.4L522.9,282.1L518.3,280.5L509.8,281.3L506.9,275.4ZM342.5,455.6L349.9,451.3L359.0,448.2L367.5,448.2L378.4,452.5L390.9,458.6L401.7,463.5L403.4,465.9L395.4,467.1L384.0,467.7L382.3,463.5L373.2,458.0L362.4,456.2L353.3,454.3ZM402.2,476.2L410.2,467.7L421.6,467.7L430.1,469.6L436.4,473.8L434.7,478.0L427.3,476.8L421.6,478.0L413.1,479.2L402.2,477.4ZM380.1,476.2L391.4,476.8L392.0,479.8L384.6,479.8L379.5,477.4ZM443.2,476.2L452.3,476.2L451.7,479.2L443.2,479.2ZM1011.0,404.9L1009.3,395.7L1001.9,394.3L995.6,396.3L987.6,398.3L968.9,394.3L959.2,387.6L950.7,384.9L945.0,386.3L939.8,390.3L937.0,401.0L930.7,402.3L925.1,397.7L916.5,395.7L912.0,389.0L899.5,384.9L890.9,383.6L888.1,380.8L885.2,374.0L888.1,367.0L886.9,360.0L883.5,355.0L876.7,356.4L871.0,357.2L862.5,357.9L853.9,359.3L845.4,357.9L836.9,360.0L825.5,363.5L817.0,367.0L811.3,369.1L794.2,364.2L791.4,365.6L788.5,374.0L781.7,380.8L773.2,387.6L769.7,397.7L767.5,407.5L758.4,417.3L750.4,423.7L741.3,433.2L735.6,442.6L729.4,455.0L728.8,461.1L732.8,470.2L733.9,479.2L731.6,491.1L725.9,498.7L730.5,505.8L730.5,514.5L737.3,520.3L743.0,526.1L749.8,531.9L751.5,537.6L760.1,543.4L768.6,549.1L780.0,554.8L782.8,557.7L797.1,554.8L808.4,553.7L814.1,556.0L822.7,552.0L831.2,550.2L839.7,547.4L845.4,546.8L853.9,552.0L859.6,558.8L868.2,557.7L873.9,557.7L878.4,560.5L881.3,569.1L879.5,577.6L878.4,583.3L876.7,589.0L882.4,597.5L890.9,606.1L893.8,611.8L895.5,617.5L899.5,629.0L900.6,637.6L904.0,646.3L902.9,655.0L896.6,663.7L892.6,675.5L892.6,684.4L899.5,699.5L906.9,711.6L908.0,724.0L910.8,739.7L919.4,752.6L923.9,765.6L929.0,779.0L930.2,785.8L930.7,791.3L935.3,789.9L939.3,794.7L950.7,789.2L962.0,789.2L971.7,787.8L979.1,785.8L987.6,779.0L996.2,770.9L1003.6,759.1L1010.4,746.1L1012.1,735.9L1016.1,730.3L1027.5,724.0L1027.5,711.6L1023.5,699.5L1033.1,690.4L1044.5,681.5L1055.9,672.6L1056.5,660.8L1055.3,646.3L1050.2,634.7L1049.1,623.2L1048.5,611.8L1053.1,603.2L1058.7,594.7L1064.4,589.0L1075.8,577.6L1084.3,569.1L1095.7,560.5L1104.3,549.1L1111.1,537.6L1115.6,526.1L1117.3,515.7L1107.1,519.2L1095.7,521.5L1084.3,523.2L1075.8,523.2L1071.3,517.4L1071.8,511.6L1066.1,505.8L1055.9,497.0L1049.1,491.1L1044.5,479.2L1037.7,470.2L1036.6,461.1L1033.1,451.9L1028.0,442.6L1022.3,433.2L1018.4,423.7L1013.2,414.0ZM1106.0,652.1L1101.4,660.8L1094.0,669.6L1084.3,674.3L1078.7,677.3L1075.8,684.4L1077.5,696.4L1073.0,708.6L1073.5,717.8L1075.8,727.1L1082.6,733.4L1092.9,730.3L1096.3,717.8L1102.5,699.5L1107.1,684.4L1111.1,672.6L1109.4,660.8ZM1011.0,404.9L1009.3,395.7L1021.2,394.3L1024.0,387.6L1026.9,380.8L1029.7,374.0L1029.2,367.0L1030.9,359.3L1027.5,357.9L1021.8,360.0L1016.1,362.1L1010.4,362.8L1001.9,358.6L997.9,361.4L992.2,359.3L984.8,356.4L980.2,352.9L976.3,345.6L974.5,338.3L975.1,333.9L977.4,330.9L989.9,327.1L991.0,325.6L1001.9,325.6L1016.1,320.3L1024.6,319.6L1033.1,324.9L1044.5,327.1L1053.1,327.1L1062.2,322.6L1061.6,315.7L1053.1,309.5L1041.7,300.0L1033.7,295.2L1041.7,287.9L1049.1,278.8L1038.8,283.8L1024.6,287.9L1027.5,293.6L1020.6,300.0L1016.1,300.0L1011.0,294.4L1016.1,288.7L1007.5,283.8L1001.9,283.0L999.0,287.9L994.5,294.4L988.2,304.0L984.2,311.8L984.8,319.6L990.5,325.6L984.8,327.9L979.1,330.2L973.4,328.7L967.7,327.9L959.2,330.9L954.1,334.6L955.8,342.0L962.0,347.8L958.1,352.2L956.3,360.0L953.5,360.7L948.9,357.9L946.7,351.4L947.8,347.1L943.3,342.0L939.3,336.9L935.9,330.9L935.9,321.1L930.7,315.7L925.1,311.8L918.2,307.9L912.5,303.2L907.4,297.6L902.9,295.2L903.4,290.3L895.5,291.2L896.0,297.6L897.2,304.0L902.3,307.1L906.3,315.7L913.7,320.3L917.7,320.3L921.1,325.6L927.9,330.2L930.7,334.6L922.2,330.9L922.2,339.1L919.4,345.6L914.8,350.0L916.0,345.6L915.4,338.3L910.8,333.1L906.3,329.4L902.3,325.6L895.5,321.1L889.2,315.7L884.1,307.9L879.5,303.2L875.6,300.8L868.2,305.6L862.5,308.7L855.7,310.3L848.3,307.9L843.1,311.8L843.7,317.2L838.0,323.4L830.1,327.1L825.5,334.6L824.9,342.0L823.2,345.6L821.5,352.2L814.1,357.9L799.9,358.6L793.6,363.5L789.7,360.0L784.0,355.0L774.9,356.4L774.9,345.6L771.5,344.2L774.9,334.6L775.4,323.4L774.3,315.7L772.6,310.3L780.6,306.4L791.4,307.9L802.7,308.7L814.1,309.5L817.5,307.1L818.7,300.0L819.2,292.0L818.7,286.3L813.0,279.6L805.6,273.8L798.8,271.2L798.2,266.9L808.4,264.4L817.0,266.1L814.7,256.5L819.2,259.1L826.6,258.3L834.0,253.9L838.6,244.9L845.4,241.3L849.4,235.8L852.8,226.4L859.6,222.6L871.0,220.7L875.6,216.9L874.4,207.1L871.6,197.0L874.4,185.7L885.2,180.4L884.1,191.9L881.3,201.1L882.4,209.1L888.1,213.0L893.8,215.9L902.3,212.0L906.3,216.9L919.4,212.0L927.9,209.1L937.0,213.0L942.1,207.1L945.5,198.0L945.0,188.8L948.4,181.5L959.2,186.7L963.7,178.3L959.2,171.8L962.0,161.9L973.4,159.7L984.8,159.7L995.0,154.0L987.6,148.3L973.4,150.6L962.0,154.0L955.8,155.2L947.8,148.3L947.8,136.6L946.1,124.5L953.5,111.9L964.9,98.9L969.4,85.5L963.2,81.3L950.7,85.5L945.0,98.9L936.4,111.9L926.8,124.5L923.3,136.6L925.1,148.3L932.5,156.3L927.9,165.2L920.5,170.7L919.9,181.5L916.5,195.0L908.0,197.0L899.5,203.1L897.7,191.9L892.6,179.3L889.2,167.5L885.2,163.0L879.5,166.4L871.0,174.0L865.3,176.1L857.9,170.7L855.1,161.9L853.4,148.3L853.9,136.6L858.5,124.5L873.9,111.9L885.2,98.9L895.5,85.5L900.6,71.5L909.7,56.9L913.7,41.7L925.1,29.1L936.4,17.6L950.7,12.6L967.7,0.6L984.8,4.1L999.0,17.6L1007.5,25.9L1016.1,30.7L1030.3,37.0L1050.2,49.4L1056.6,59.4L1046.0,70.0L1030.0,73.0L1015.0,68.0L1005.8,62.0L1012.0,78.0L1025.6,90.0L1035.0,106.0L1041.0,108.0L1049.2,99.0L1052.9,86.6L1062.8,74.3L1070.2,69.3L1072.7,61.9L1075.1,46.0L1075.8,46.4L1087.2,53.9L1098.6,49.4L1127.0,41.7L1138.4,37.0L1155.5,40.2L1166.8,33.9L1169.7,22.6L1189.6,37.0L1203.8,33.9L1206.7,0.6L1223.7,-77.6L1394.4,-100.3L1593.5,-77.6L1593.5,314.9L1568.5,317.2L1563.3,323.4L1560.5,330.9L1552.5,338.3L1555.4,345.6L1559.9,352.9L1562.2,363.5L1559.4,369.8L1551.4,372.6L1544.6,371.9L1545.1,367.0L1544.0,360.0L1545.7,352.9L1536.6,349.3L1538.3,342.0L1533.2,336.1L1532.1,334.6L1524.1,338.3L1515.0,343.5L1516.7,338.3L1520.7,330.9L1513.9,328.7L1505.3,334.6L1499.6,340.5L1494.5,345.6L1502.5,350.7L1505.3,355.0L1511.0,352.9L1522.4,352.9L1521.3,357.2L1512.1,360.0L1505.3,368.4L1509.9,375.3L1512.7,384.2L1518.4,391.0L1519.0,397.7L1516.7,401.0L1519.5,405.6L1516.7,414.0L1512.7,420.5L1508.2,426.9L1505.3,433.2L1499.6,439.5L1491.1,445.7L1482.6,450.0L1475.2,453.1L1468.3,455.0L1459.8,458.0L1454.1,461.1L1452.4,465.3L1448.4,458.0L1439.9,457.4L1433.1,462.3L1427.4,470.2L1431.4,479.2L1437.1,488.1L1444.5,494.0L1447.3,505.8L1446.7,514.5L1437.1,523.2L1431.4,529.0L1421.7,534.2L1421.7,527.3L1417.1,523.2L1411.5,517.4L1407.5,511.6L1399.5,505.8L1394.4,511.6L1391.5,520.3L1389.8,529.0L1394.4,534.8L1397.8,543.4L1405.8,549.1L1413.7,557.7L1414.3,567.4L1418.3,575.3L1414.3,574.8L1402.9,569.1L1398.9,563.4L1396.1,552.0L1392.7,543.4L1384.7,534.8L1385.9,526.1L1387.0,514.5L1383.0,502.9L1380.7,491.1L1377.3,488.1L1368.8,491.1L1361.4,491.1L1363.1,482.2L1359.1,473.2L1353.4,464.1L1348.9,458.0L1346.0,455.0L1340.3,450.6L1334.7,456.2L1323.3,457.4L1319.3,464.1L1310.8,470.2L1300.5,479.2L1293.7,486.3L1286.3,492.3L1281.7,497.0L1282.3,508.7L1279.5,517.4L1279.5,524.4L1274.9,530.2L1266.4,537.1L1260.7,532.5L1259.0,526.1L1255.0,517.4L1250.5,508.7L1246.5,497.0L1242.5,485.1L1239.7,473.2L1239.7,464.1L1238.5,458.0L1237.9,453.1L1229.4,461.1L1223.7,462.3L1218.0,453.1L1215.2,448.8L1209.5,442.6L1203.8,436.3L1189.6,434.5L1175.4,435.1L1161.1,433.8L1151.5,426.9L1145.8,422.4L1132.7,426.2L1121.3,420.5L1114.5,411.4L1107.1,404.3L1098.6,404.3L1098.6,408.8L1103.1,417.3L1108.8,423.7L1111.1,428.8L1114.5,436.3L1116.8,433.2L1118.5,429.4L1119.0,436.3L1121.3,441.3L1132.7,441.3L1138.4,436.3L1144.1,431.3L1146.4,427.5L1146.4,436.3L1149.8,442.6L1158.3,445.7L1165.7,451.9L1160.0,461.1L1154.3,467.1L1149.8,474.4L1145.8,479.2L1135.5,485.1L1124.2,488.1L1118.5,494.0L1104.3,499.9L1092.9,505.8L1081.5,509.9L1073.0,510.5L1071.3,505.8L1068.4,497.0L1067.8,488.1L1061.6,479.2L1054.2,467.1L1047.4,458.0L1044.5,448.8L1038.8,439.5L1033.1,430.0L1026.9,420.5L1023.5,414.0L1024.0,407.5L1021.2,417.3L1020.1,419.2L1013.2,410.8ZM793.1,253.9L802.7,251.2L811.3,248.5L819.8,246.7L827.2,246.7L833.5,244.0L831.2,240.4L834.0,237.6L835.2,231.1L827.2,226.4L826.1,220.7L822.1,212.0L817.5,207.1L814.1,199.1L808.4,197.0L810.7,191.9L815.3,181.5L805.6,179.3L808.4,169.6L797.1,169.6L793.6,178.3L792.5,186.7L791.4,191.9L794.2,199.1L797.1,204.1L796.5,209.1L805.6,210.0L807.9,216.9L808.4,222.6L799.9,223.6L798.8,228.3L796.5,235.8L795.9,238.5L802.7,239.5L807.3,242.2L801.6,243.1L797.1,249.4ZM769.7,240.4L766.3,233.9L768.6,223.6L768.6,214.0L778.3,205.1L785.7,204.1L794.2,211.0L790.2,218.8L790.2,231.1L785.7,233.9L777.1,239.5ZM896.0,347.8L914.2,347.1L912.5,356.4L909.7,358.6L899.5,354.3L896.6,351.4ZM877.8,325.6L881.3,330.9L880.1,340.5L873.9,342.0L872.1,330.9L872.7,327.1ZM879.0,311.8L880.1,316.5L877.8,324.1L874.4,320.3L874.4,314.9ZM959.2,368.4L963.2,366.3L975.1,368.4L973.4,370.5L964.9,370.5ZM1009.3,369.8L1022.3,365.6L1018.9,370.5L1013.2,373.3ZM1281.7,527.3L1288.0,534.8L1291.4,543.4L1286.3,549.1L1280.6,548.0L1279.5,537.6ZM1570.2,378.1L1563.9,380.8L1563.3,386.3L1566.2,396.3L1570.7,397.7L1576.4,387.6L1576.4,378.1ZM1570.2,375.3L1579.3,367.0L1587.8,363.5L1587.8,377.4L1573.6,378.1ZM1516.7,434.5L1519.0,439.5L1516.1,448.8L1512.7,455.0L1509.9,451.3L1508.7,445.7L1512.1,438.8ZM1454.1,466.5L1457.0,470.2L1451.3,476.2L1447.9,477.4L1443.3,472.0L1448.4,467.1ZM1512.7,476.2L1520.7,477.4L1520.1,488.1L1516.7,497.0L1519.5,502.9L1530.9,504.0L1530.9,510.5L1525.2,505.8L1513.9,504.0L1511.6,499.9L1508.2,491.1L1510.4,482.2ZM1539.5,527.9L1545.1,534.8L1545.1,543.4L1539.5,549.1L1530.9,544.5L1519.5,540.5L1525.2,537.6L1528.1,533.0L1536.6,531.9ZM1533.8,511.6L1540.6,520.3L1536.6,526.1L1525.2,529.0L1519.5,523.2L1519.0,515.7ZM1505.9,517.4L1502.5,526.1L1492.2,535.3L1494.5,531.9L1505.3,523.2ZM1490.0,543.4L1485.4,549.1L1476.9,557.7L1468.3,566.2L1454.1,573.1L1448.4,574.8L1446.7,583.3L1451.3,591.8L1457.0,600.4L1471.2,601.5L1476.9,603.2L1485.4,606.1L1488.3,597.5L1491.1,589.0L1496.8,580.5L1501.3,577.6L1496.8,569.1L1495.7,560.5L1499.6,554.8L1503.6,550.2L1493.9,544.5ZM1367.1,552.0L1371.6,557.7L1380.2,566.2L1387.6,574.8L1393.3,583.3L1397.2,591.8L1402.9,600.4L1411.5,608.9L1420.6,616.9L1427.4,614.6L1428.0,606.1L1429.1,600.4L1420.0,591.8L1416.0,583.3L1408.6,577.6L1400.1,571.9L1394.4,569.1L1387.6,561.7L1381.9,554.8L1371.6,552.0ZM1428.5,617.5L1439.9,618.1L1454.1,620.4L1465.5,622.6L1476.9,626.7L1476.9,633.0L1457.0,630.7L1442.7,627.8L1431.4,624.4L1424.5,622.1ZM1479.7,629.5L1488.3,630.7L1502.5,630.1L1522.4,630.7L1524.1,634.1L1502.5,634.1L1485.4,633.6L1480.9,633.6ZM1549.1,630.7L1536.6,634.7L1528.1,641.6L1533.8,637.6L1542.3,633.6ZM1536.6,575.9L1528.1,580.5L1511.0,579.9L1512.7,587.9L1525.2,588.4L1526.9,591.8L1516.7,589.0L1513.9,597.5L1523.5,608.9L1522.4,614.6L1517.3,606.1L1511.0,599.2L1510.4,615.2L1504.8,614.6L1501.9,603.2L1505.9,587.9L1509.3,578.7L1516.7,577.6L1530.9,577.6ZM1553.7,571.9L1556.5,580.5L1553.7,587.9L1550.8,580.5L1550.8,574.8ZM1569.6,586.1L1573.6,591.8L1579.3,597.5L1585.0,606.1L1621.9,606.1L1621.9,583.3L1576.4,586.1L1570.7,589.0ZM1553.7,599.2L1567.9,600.4L1567.9,604.9L1554.8,602.7ZM1542.3,600.9L1549.1,602.1L1546.9,605.5L1542.3,603.8ZM1573.6,640.5L1570.7,652.1L1566.8,655.0L1563.9,660.8L1562.2,668.4L1555.4,669.6L1550.8,663.7L1542.3,664.9L1533.8,669.6L1525.2,677.3L1520.7,684.4L1516.7,690.4L1508.2,696.4L1499.6,701.3L1491.1,704.3L1482.6,708.6L1475.2,711.6L1472.9,720.9L1472.3,730.3L1471.2,739.7L1475.2,749.3L1479.7,762.3L1483.7,775.6L1479.7,785.8L1480.9,791.9L1488.3,796.1L1496.8,795.4L1508.2,789.2L1519.5,788.5L1530.9,785.8L1542.3,777.6L1553.7,773.6L1565.1,772.9L1573.6,772.3L1573.6,832.0ZM1152.6,9.2L1127.0,-8.3L1121.3,-36.3L1149.8,-36.3L1158.3,0.6Z" fill="#121212" stroke="#6c6c6c" stroke-width="4" stroke-linejoin="round"/><path d="M-39.2,-77.6L472.8,-77.6L434.0,0.0L441.8,29.2L449.6,48.7L467.1,64.3L473.0,70.2L461.3,83.8L453.5,91.6L449.6,101.4L451.5,117.0L453.5,136.5L455.4,156.0L465.2,175.4L474.9,191.0L490.5,206.6L504.2,220.3L510.0,243.7L501.2,240.4L487.0,249.4L467.1,252.1L450.0,253.9L441.5,260.0L433.0,266.9L425.6,275.4L435.8,266.9L447.2,262.6L458.6,260.9L455.7,271.2L456.9,275.4L457.4,283.8L461.4,287.9L469.9,289.5L475.6,291.2L481.3,279.6L485.3,287.9L469.9,298.4L451.7,307.9L450.0,300.0L458.6,293.6L444.3,296.0L441.5,300.0L433.0,304.0L426.1,307.9L423.3,314.2L427.3,319.6L424.4,322.6L418.7,323.4L413.1,325.6L405.7,328.7L403.4,330.9L402.8,338.3L399.4,342.7L398.3,345.6L394.9,352.9L393.1,356.4L395.4,363.5L396.0,369.1L390.3,373.3L381.8,377.4L374.4,384.2L365.8,391.0L362.4,401.0L365.3,410.8L369.8,423.7L368.7,433.2L364.7,435.7L360.7,430.0L355.0,420.5L354.5,410.8L347.6,404.9L340.8,406.2L333.4,402.3L324.9,401.6L316.3,402.3L318.1,409.5L313.5,410.8L305.0,407.5L293.6,406.2L286.8,407.5L276.5,414.0L272.0,420.5L272.5,430.0L269.7,439.5L269.1,451.9L271.4,459.2L276.5,467.1L280.5,473.2L287.9,477.4L299.3,475.6L306.1,474.4L310.7,468.3L312.4,459.8L324.9,458.6L330.6,458.0L329.4,464.1L327.7,470.2L324.9,476.8L323.2,483.4L320.9,491.1L323.7,492.3L336.3,492.3L341.9,491.1L351.6,497.0L350.5,505.8L349.3,514.5L349.3,520.3L353.3,526.1L359.0,530.2L364.7,531.9L373.2,529.0L381.8,531.9L385.2,534.2L391.4,530.2L396.0,523.8L400.0,520.3L403.4,518.6L410.2,517.4L417.6,512.2L419.9,516.9L418.2,520.3L425.6,515.7L427.3,513.4L429.6,518.0L437.5,523.2L447.2,522.7L455.7,525.0L467.1,522.1L473.4,522.1L475.1,527.3L484.2,534.2L492.7,540.5L495.0,544.5L500.7,549.7L512.6,550.2L519.4,551.4L528.0,556.0L534.2,561.7L538.2,571.9L541.1,580.5L539.9,583.3L549.6,587.9L555.3,586.7L562.1,589.0L570.6,591.8L575.2,597.5L586.6,599.2L597.9,600.4L607.6,606.1L616.1,611.8L624.1,612.9L627.5,623.2L625.3,634.7L617.9,643.4L612.2,652.1L606.5,657.9L603.6,669.6L602.5,684.4L599.1,696.4L593.4,705.5L592.3,711.6L583.7,717.8L575.2,717.8L566.7,722.8L558.1,727.1L550.7,733.4L549.0,742.9L547.9,752.6L539.9,762.3L533.7,772.3L527.4,779.0L521.7,789.2L513.7,794.7L505.8,795.4L498.4,792.6L493.3,791.3L500.1,797.5L502.4,805.2L498.4,813.7L496.7,819.5L472.8,823.9L471.1,835.7L461.4,847.0L444.3,870.6L398.8,870.6L404.5,847.0L406.2,832.0L407.4,821.0L409.1,810.2L414.8,796.1L417.6,782.4L418.2,768.9L419.3,755.8L422.2,742.9L424.4,730.3L424.4,717.8L426.1,705.5L425.6,693.4L425.0,689.2L418.7,683.2L407.4,677.3L397.7,671.4L391.4,663.7L388.6,655.0L384.0,646.3L378.4,634.7L372.7,626.1L364.7,617.5L363.0,609.5L368.7,603.2L370.4,598.1L364.7,596.4L367.0,589.0L370.4,580.5L376.1,575.9L378.4,569.1L385.2,560.5L385.2,549.1L381.8,541.7L379.5,535.9L373.2,531.9L368.7,537.6L368.1,541.7L361.3,536.5L353.3,535.3L346.5,531.9L341.9,528.4L338.0,526.1L336.8,519.2L328.9,512.8L327.2,507.5L319.2,506.9L307.8,503.4L299.3,498.7L290.7,491.1L285.1,489.9L276.5,492.8L265.1,489.3L256.6,485.1L246.4,480.4L236.7,477.4L229.3,472.0L224.8,464.7L226.5,458.0L219.6,448.8L212.2,439.5L205.4,433.2L200.9,425.0L194.0,417.3L186.6,407.5L180.9,397.7L172.4,392.3L175.3,407.5L183.8,417.3L191.2,426.9L195.2,436.3L199.7,442.6L200.3,449.4L198.0,445.7L187.2,438.2L185.5,430.0L175.8,423.7L175.8,417.3L168.4,407.5L163.3,397.7L159.3,387.6L155.3,380.8L150.8,377.4L140.0,374.0L137.1,367.0L132.0,359.3L128.6,350.7L124.6,345.6L120.1,334.6L117.8,330.9L118.4,319.6L119.5,304.0L120.1,287.9L117.2,275.4L116.1,267.8L105.9,258.3L96.2,249.4L100.2,244.9L97.3,235.8L87.1,221.7L83.1,212.0L80.3,202.1L68.9,191.9L54.7,181.5L46.1,170.7L31.9,159.7L20.5,154.0L3.5,150.6L-7.9,148.3L-19.3,142.5L-36.4,154.0L-84.7,154.0L-84.7,-77.6ZM520.0,-46.0L535.4,0.0L531.5,19.5L519.8,39.0L519.8,58.5L523.6,78.0L531.5,97.5L539.3,117.0L549.0,136.5L556.8,144.3L572.4,154.0L581.2,136.5L584.1,117.0L591.9,97.5L601.6,83.8L609.3,85.5L620.7,78.6L632.1,64.3L643.5,49.4L660.5,41.7L683.3,25.9L697.5,12.6L700.3,0.6L700.3,-17.3L711.7,-77.6ZM697.5,108.1L696.4,105.5L689.0,96.3L697.5,86.8L686.1,85.5L691.8,75.7L697.5,72.9L706.0,81.3L711.7,77.1L725.9,75.7L734.5,71.5L742.4,77.1L748.1,85.5L745.9,96.3L737.3,102.9L729.4,108.1L718.5,113.2L706.0,108.1ZM488.1,274.6L489.9,266.9L495.5,258.3L509.8,239.5L506.9,249.4L509.8,255.6L518.3,258.3L524.0,266.9L525.7,275.4L522.9,282.1L518.3,280.5L509.8,281.3L506.9,275.4ZM342.5,455.6L349.9,451.3L359.0,448.2L367.5,448.2L378.4,452.5L390.9,458.6L401.7,463.5L403.4,465.9L395.4,467.1L384.0,467.7L382.3,463.5L373.2,458.0L362.4,456.2L353.3,454.3ZM402.2,476.2L410.2,467.7L421.6,467.7L430.1,469.6L436.4,473.8L434.7,478.0L427.3,476.8L421.6,478.0L413.1,479.2L402.2,477.4ZM380.1,476.2L391.4,476.8L392.0,479.8L384.6,479.8L379.5,477.4ZM443.2,476.2L452.3,476.2L451.7,479.2L443.2,479.2ZM1011.0,404.9L1009.3,395.7L1001.9,394.3L995.6,396.3L987.6,398.3L968.9,394.3L959.2,387.6L950.7,384.9L945.0,386.3L939.8,390.3L937.0,401.0L930.7,402.3L925.1,397.7L916.5,395.7L912.0,389.0L899.5,384.9L890.9,383.6L888.1,380.8L885.2,374.0L888.1,367.0L886.9,360.0L883.5,355.0L876.7,356.4L871.0,357.2L862.5,357.9L853.9,359.3L845.4,357.9L836.9,360.0L825.5,363.5L817.0,367.0L811.3,369.1L794.2,364.2L791.4,365.6L788.5,374.0L781.7,380.8L773.2,387.6L769.7,397.7L767.5,407.5L758.4,417.3L750.4,423.7L741.3,433.2L735.6,442.6L729.4,455.0L728.8,461.1L732.8,470.2L733.9,479.2L731.6,491.1L725.9,498.7L730.5,505.8L730.5,514.5L737.3,520.3L743.0,526.1L749.8,531.9L751.5,537.6L760.1,543.4L768.6,549.1L780.0,554.8L782.8,557.7L797.1,554.8L808.4,553.7L814.1,556.0L822.7,552.0L831.2,550.2L839.7,547.4L845.4,546.8L853.9,552.0L859.6,558.8L868.2,557.7L873.9,557.7L878.4,560.5L881.3,569.1L879.5,577.6L878.4,583.3L876.7,589.0L882.4,597.5L890.9,606.1L893.8,611.8L895.5,617.5L899.5,629.0L900.6,637.6L904.0,646.3L902.9,655.0L896.6,663.7L892.6,675.5L892.6,684.4L899.5,699.5L906.9,711.6L908.0,724.0L910.8,739.7L919.4,752.6L923.9,765.6L929.0,779.0L930.2,785.8L930.7,791.3L935.3,789.9L939.3,794.7L950.7,789.2L962.0,789.2L971.7,787.8L979.1,785.8L987.6,779.0L996.2,770.9L1003.6,759.1L1010.4,746.1L1012.1,735.9L1016.1,730.3L1027.5,724.0L1027.5,711.6L1023.5,699.5L1033.1,690.4L1044.5,681.5L1055.9,672.6L1056.5,660.8L1055.3,646.3L1050.2,634.7L1049.1,623.2L1048.5,611.8L1053.1,603.2L1058.7,594.7L1064.4,589.0L1075.8,577.6L1084.3,569.1L1095.7,560.5L1104.3,549.1L1111.1,537.6L1115.6,526.1L1117.3,515.7L1107.1,519.2L1095.7,521.5L1084.3,523.2L1075.8,523.2L1071.3,517.4L1071.8,511.6L1066.1,505.8L1055.9,497.0L1049.1,491.1L1044.5,479.2L1037.7,470.2L1036.6,461.1L1033.1,451.9L1028.0,442.6L1022.3,433.2L1018.4,423.7L1013.2,414.0ZM1106.0,652.1L1101.4,660.8L1094.0,669.6L1084.3,674.3L1078.7,677.3L1075.8,684.4L1077.5,696.4L1073.0,708.6L1073.5,717.8L1075.8,727.1L1082.6,733.4L1092.9,730.3L1096.3,717.8L1102.5,699.5L1107.1,684.4L1111.1,672.6L1109.4,660.8ZM1011.0,404.9L1009.3,395.7L1021.2,394.3L1024.0,387.6L1026.9,380.8L1029.7,374.0L1029.2,367.0L1030.9,359.3L1027.5,357.9L1021.8,360.0L1016.1,362.1L1010.4,362.8L1001.9,358.6L997.9,361.4L992.2,359.3L984.8,356.4L980.2,352.9L976.3,345.6L974.5,338.3L975.1,333.9L977.4,330.9L989.9,327.1L991.0,325.6L1001.9,325.6L1016.1,320.3L1024.6,319.6L1033.1,324.9L1044.5,327.1L1053.1,327.1L1062.2,322.6L1061.6,315.7L1053.1,309.5L1041.7,300.0L1033.7,295.2L1041.7,287.9L1049.1,278.8L1038.8,283.8L1024.6,287.9L1027.5,293.6L1020.6,300.0L1016.1,300.0L1011.0,294.4L1016.1,288.7L1007.5,283.8L1001.9,283.0L999.0,287.9L994.5,294.4L988.2,304.0L984.2,311.8L984.8,319.6L990.5,325.6L984.8,327.9L979.1,330.2L973.4,328.7L967.7,327.9L959.2,330.9L954.1,334.6L955.8,342.0L962.0,347.8L958.1,352.2L956.3,360.0L953.5,360.7L948.9,357.9L946.7,351.4L947.8,347.1L943.3,342.0L939.3,336.9L935.9,330.9L935.9,321.1L930.7,315.7L925.1,311.8L918.2,307.9L912.5,303.2L907.4,297.6L902.9,295.2L903.4,290.3L895.5,291.2L896.0,297.6L897.2,304.0L902.3,307.1L906.3,315.7L913.7,320.3L917.7,320.3L921.1,325.6L927.9,330.2L930.7,334.6L922.2,330.9L922.2,339.1L919.4,345.6L914.8,350.0L916.0,345.6L915.4,338.3L910.8,333.1L906.3,329.4L902.3,325.6L895.5,321.1L889.2,315.7L884.1,307.9L879.5,303.2L875.6,300.8L868.2,305.6L862.5,308.7L855.7,310.3L848.3,307.9L843.1,311.8L843.7,317.2L838.0,323.4L830.1,327.1L825.5,334.6L824.9,342.0L823.2,345.6L821.5,352.2L814.1,357.9L799.9,358.6L793.6,363.5L789.7,360.0L784.0,355.0L774.9,356.4L774.9,345.6L771.5,344.2L774.9,334.6L775.4,323.4L774.3,315.7L772.6,310.3L780.6,306.4L791.4,307.9L802.7,308.7L814.1,309.5L817.5,307.1L818.7,300.0L819.2,292.0L818.7,286.3L813.0,279.6L805.6,273.8L798.8,271.2L798.2,266.9L808.4,264.4L817.0,266.1L814.7,256.5L819.2,259.1L826.6,258.3L834.0,253.9L838.6,244.9L845.4,241.3L849.4,235.8L852.8,226.4L859.6,222.6L871.0,220.7L875.6,216.9L874.4,207.1L871.6,197.0L874.4,185.7L885.2,180.4L884.1,191.9L881.3,201.1L882.4,209.1L888.1,213.0L893.8,215.9L902.3,212.0L906.3,216.9L919.4,212.0L927.9,209.1L937.0,213.0L942.1,207.1L945.5,198.0L945.0,188.8L948.4,181.5L959.2,186.7L963.7,178.3L959.2,171.8L962.0,161.9L973.4,159.7L984.8,159.7L995.0,154.0L987.6,148.3L973.4,150.6L962.0,154.0L955.8,155.2L947.8,148.3L947.8,136.6L946.1,124.5L953.5,111.9L964.9,98.9L969.4,85.5L963.2,81.3L950.7,85.5L945.0,98.9L936.4,111.9L926.8,124.5L923.3,136.6L925.1,148.3L932.5,156.3L927.9,165.2L920.5,170.7L919.9,181.5L916.5,195.0L908.0,197.0L899.5,203.1L897.7,191.9L892.6,179.3L889.2,167.5L885.2,163.0L879.5,166.4L871.0,174.0L865.3,176.1L857.9,170.7L855.1,161.9L853.4,148.3L853.9,136.6L858.5,124.5L873.9,111.9L885.2,98.9L895.5,85.5L900.6,71.5L909.7,56.9L913.7,41.7L925.1,29.1L936.4,17.6L950.7,12.6L967.7,0.6L984.8,4.1L999.0,17.6L1007.5,25.9L1016.1,30.7L1030.3,37.0L1050.2,49.4L1056.6,59.4L1046.0,70.0L1030.0,73.0L1015.0,68.0L1005.8,62.0L1012.0,78.0L1025.6,90.0L1035.0,106.0L1041.0,108.0L1049.2,99.0L1052.9,86.6L1062.8,74.3L1070.2,69.3L1072.7,61.9L1075.1,46.0L1075.8,46.4L1087.2,53.9L1098.6,49.4L1127.0,41.7L1138.4,37.0L1155.5,40.2L1166.8,33.9L1169.7,22.6L1189.6,37.0L1203.8,33.9L1206.7,0.6L1223.7,-77.6L1394.4,-100.3L1593.5,-77.6L1593.5,314.9L1568.5,317.2L1563.3,323.4L1560.5,330.9L1552.5,338.3L1555.4,345.6L1559.9,352.9L1562.2,363.5L1559.4,369.8L1551.4,372.6L1544.6,371.9L1545.1,367.0L1544.0,360.0L1545.7,352.9L1536.6,349.3L1538.3,342.0L1533.2,336.1L1532.1,334.6L1524.1,338.3L1515.0,343.5L1516.7,338.3L1520.7,330.9L1513.9,328.7L1505.3,334.6L1499.6,340.5L1494.5,345.6L1502.5,350.7L1505.3,355.0L1511.0,352.9L1522.4,352.9L1521.3,357.2L1512.1,360.0L1505.3,368.4L1509.9,375.3L1512.7,384.2L1518.4,391.0L1519.0,397.7L1516.7,401.0L1519.5,405.6L1516.7,414.0L1512.7,420.5L1508.2,426.9L1505.3,433.2L1499.6,439.5L1491.1,445.7L1482.6,450.0L1475.2,453.1L1468.3,455.0L1459.8,458.0L1454.1,461.1L1452.4,465.3L1448.4,458.0L1439.9,457.4L1433.1,462.3L1427.4,470.2L1431.4,479.2L1437.1,488.1L1444.5,494.0L1447.3,505.8L1446.7,514.5L1437.1,523.2L1431.4,529.0L1421.7,534.2L1421.7,527.3L1417.1,523.2L1411.5,517.4L1407.5,511.6L1399.5,505.8L1394.4,511.6L1391.5,520.3L1389.8,529.0L1394.4,534.8L1397.8,543.4L1405.8,549.1L1413.7,557.7L1414.3,567.4L1418.3,575.3L1414.3,574.8L1402.9,569.1L1398.9,563.4L1396.1,552.0L1392.7,543.4L1384.7,534.8L1385.9,526.1L1387.0,514.5L1383.0,502.9L1380.7,491.1L1377.3,488.1L1368.8,491.1L1361.4,491.1L1363.1,482.2L1359.1,473.2L1353.4,464.1L1348.9,458.0L1346.0,455.0L1340.3,450.6L1334.7,456.2L1323.3,457.4L1319.3,464.1L1310.8,470.2L1300.5,479.2L1293.7,486.3L1286.3,492.3L1281.7,497.0L1282.3,508.7L1279.5,517.4L1279.5,524.4L1274.9,530.2L1266.4,537.1L1260.7,532.5L1259.0,526.1L1255.0,517.4L1250.5,508.7L1246.5,497.0L1242.5,485.1L1239.7,473.2L1239.7,464.1L1238.5,458.0L1237.9,453.1L1229.4,461.1L1223.7,462.3L1218.0,453.1L1215.2,448.8L1209.5,442.6L1203.8,436.3L1189.6,434.5L1175.4,435.1L1161.1,433.8L1151.5,426.9L1145.8,422.4L1132.7,426.2L1121.3,420.5L1114.5,411.4L1107.1,404.3L1098.6,404.3L1098.6,408.8L1103.1,417.3L1108.8,423.7L1111.1,428.8L1114.5,436.3L1116.8,433.2L1118.5,429.4L1119.0,436.3L1121.3,441.3L1132.7,441.3L1138.4,436.3L1144.1,431.3L1146.4,427.5L1146.4,436.3L1149.8,442.6L1158.3,445.7L1165.7,451.9L1160.0,461.1L1154.3,467.1L1149.8,474.4L1145.8,479.2L1135.5,485.1L1124.2,488.1L1118.5,494.0L1104.3,499.9L1092.9,505.8L1081.5,509.9L1073.0,510.5L1071.3,505.8L1068.4,497.0L1067.8,488.1L1061.6,479.2L1054.2,467.1L1047.4,458.0L1044.5,448.8L1038.8,439.5L1033.1,430.0L1026.9,420.5L1023.5,414.0L1024.0,407.5L1021.2,417.3L1020.1,419.2L1013.2,410.8ZM793.1,253.9L802.7,251.2L811.3,248.5L819.8,246.7L827.2,246.7L833.5,244.0L831.2,240.4L834.0,237.6L835.2,231.1L827.2,226.4L826.1,220.7L822.1,212.0L817.5,207.1L814.1,199.1L808.4,197.0L810.7,191.9L815.3,181.5L805.6,179.3L808.4,169.6L797.1,169.6L793.6,178.3L792.5,186.7L791.4,191.9L794.2,199.1L797.1,204.1L796.5,209.1L805.6,210.0L807.9,216.9L808.4,222.6L799.9,223.6L798.8,228.3L796.5,235.8L795.9,238.5L802.7,239.5L807.3,242.2L801.6,243.1L797.1,249.4ZM769.7,240.4L766.3,233.9L768.6,223.6L768.6,214.0L778.3,205.1L785.7,204.1L794.2,211.0L790.2,218.8L790.2,231.1L785.7,233.9L777.1,239.5ZM896.0,347.8L914.2,347.1L912.5,356.4L909.7,358.6L899.5,354.3L896.6,351.4ZM877.8,325.6L881.3,330.9L880.1,340.5L873.9,342.0L872.1,330.9L872.7,327.1ZM879.0,311.8L880.1,316.5L877.8,324.1L874.4,320.3L874.4,314.9ZM959.2,368.4L963.2,366.3L975.1,368.4L973.4,370.5L964.9,370.5ZM1009.3,369.8L1022.3,365.6L1018.9,370.5L1013.2,373.3ZM1281.7,527.3L1288.0,534.8L1291.4,543.4L1286.3,549.1L1280.6,548.0L1279.5,537.6ZM1570.2,378.1L1563.9,380.8L1563.3,386.3L1566.2,396.3L1570.7,397.7L1576.4,387.6L1576.4,378.1ZM1570.2,375.3L1579.3,367.0L1587.8,363.5L1587.8,377.4L1573.6,378.1ZM1516.7,434.5L1519.0,439.5L1516.1,448.8L1512.7,455.0L1509.9,451.3L1508.7,445.7L1512.1,438.8ZM1454.1,466.5L1457.0,470.2L1451.3,476.2L1447.9,477.4L1443.3,472.0L1448.4,467.1ZM1512.7,476.2L1520.7,477.4L1520.1,488.1L1516.7,497.0L1519.5,502.9L1530.9,504.0L1530.9,510.5L1525.2,505.8L1513.9,504.0L1511.6,499.9L1508.2,491.1L1510.4,482.2ZM1539.5,527.9L1545.1,534.8L1545.1,543.4L1539.5,549.1L1530.9,544.5L1519.5,540.5L1525.2,537.6L1528.1,533.0L1536.6,531.9ZM1533.8,511.6L1540.6,520.3L1536.6,526.1L1525.2,529.0L1519.5,523.2L1519.0,515.7ZM1505.9,517.4L1502.5,526.1L1492.2,535.3L1494.5,531.9L1505.3,523.2ZM1490.0,543.4L1485.4,549.1L1476.9,557.7L1468.3,566.2L1454.1,573.1L1448.4,574.8L1446.7,583.3L1451.3,591.8L1457.0,600.4L1471.2,601.5L1476.9,603.2L1485.4,606.1L1488.3,597.5L1491.1,589.0L1496.8,580.5L1501.3,577.6L1496.8,569.1L1495.7,560.5L1499.6,554.8L1503.6,550.2L1493.9,544.5ZM1367.1,552.0L1371.6,557.7L1380.2,566.2L1387.6,574.8L1393.3,583.3L1397.2,591.8L1402.9,600.4L1411.5,608.9L1420.6,616.9L1427.4,614.6L1428.0,606.1L1429.1,600.4L1420.0,591.8L1416.0,583.3L1408.6,577.6L1400.1,571.9L1394.4,569.1L1387.6,561.7L1381.9,554.8L1371.6,552.0ZM1428.5,617.5L1439.9,618.1L1454.1,620.4L1465.5,622.6L1476.9,626.7L1476.9,633.0L1457.0,630.7L1442.7,627.8L1431.4,624.4L1424.5,622.1ZM1479.7,629.5L1488.3,630.7L1502.5,630.1L1522.4,630.7L1524.1,634.1L1502.5,634.1L1485.4,633.6L1480.9,633.6ZM1549.1,630.7L1536.6,634.7L1528.1,641.6L1533.8,637.6L1542.3,633.6ZM1536.6,575.9L1528.1,580.5L1511.0,579.9L1512.7,587.9L1525.2,588.4L1526.9,591.8L1516.7,589.0L1513.9,597.5L1523.5,608.9L1522.4,614.6L1517.3,606.1L1511.0,599.2L1510.4,615.2L1504.8,614.6L1501.9,603.2L1505.9,587.9L1509.3,578.7L1516.7,577.6L1530.9,577.6ZM1553.7,571.9L1556.5,580.5L1553.7,587.9L1550.8,580.5L1550.8,574.8ZM1569.6,586.1L1573.6,591.8L1579.3,597.5L1585.0,606.1L1621.9,606.1L1621.9,583.3L1576.4,586.1L1570.7,589.0ZM1553.7,599.2L1567.9,600.4L1567.9,604.9L1554.8,602.7ZM1542.3,600.9L1549.1,602.1L1546.9,605.5L1542.3,603.8ZM1573.6,640.5L1570.7,652.1L1566.8,655.0L1563.9,660.8L1562.2,668.4L1555.4,669.6L1550.8,663.7L1542.3,664.9L1533.8,669.6L1525.2,677.3L1520.7,684.4L1516.7,690.4L1508.2,696.4L1499.6,701.3L1491.1,704.3L1482.6,708.6L1475.2,711.6L1472.9,720.9L1472.3,730.3L1471.2,739.7L1475.2,749.3L1479.7,762.3L1483.7,775.6L1479.7,785.8L1480.9,791.9L1488.3,796.1L1496.8,795.4L1508.2,789.2L1519.5,788.5L1530.9,785.8L1542.3,777.6L1553.7,773.6L1565.1,772.9L1573.6,772.3L1573.6,832.0ZM1152.6,9.2L1127.0,-8.3L1121.3,-36.3L1149.8,-36.3L1158.3,0.6Z" fill="#121212"/><path d="M1118.5,279.6L1127.0,283.8L1127.0,296.0L1115.6,300.0L1117.3,307.9L1124.2,315.7L1125.9,327.1L1128.1,334.6L1131.6,345.6L1132.1,356.4L1121.3,357.9L1104.3,352.9L1103.7,345.6L1106.0,338.3L1109.9,330.9L1104.3,323.4L1097.4,315.7L1095.7,307.9L1091.7,300.0L1095.7,292.0L1104.3,283.8ZM301.6,283.0L310.7,279.6L327.7,283.8L344.2,283.8L343.1,275.4L336.3,271.2L327.7,264.4L316.3,268.7L308.9,275.4ZM339.1,287.9L330.6,289.5L324.9,300.0L326.0,315.7L328.9,322.6L335.1,315.7L334.5,304.0L340.2,293.6ZM345.9,286.3L361.9,289.5L369.3,293.6L370.4,300.0L360.7,309.5L351.6,304.0L351.0,293.6ZM351.0,319.6L361.9,314.9L376.6,312.6L371.5,317.2L360.7,323.4ZM371.5,309.5L378.9,304.8L391.4,302.4L392.0,307.9L378.9,309.5ZM274.8,249.4L274.2,240.4L265.1,218.8L262.9,221.7L269.1,235.8L273.7,248.5ZM162.7,142.5L179.8,136.6L199.7,124.5L194.0,120.7L174.1,130.6L159.9,136.6ZM140.0,92.3L154.2,85.5L151.4,67.2L134.3,71.5L117.2,78.6L125.8,89.6ZM1001.9,154.0L999.0,136.6L1010.4,136.6L1012.1,148.3ZM1024.6,142.5L1021.8,120.7L1030.3,124.5L1030.3,138.9ZM1416.0,240.4L1428.5,231.1L1439.9,221.7L1449.0,199.1L1450.1,202.1L1444.5,221.7L1431.4,233.0L1420.0,237.6ZM1007.5,581.6L1016.1,580.5L1020.1,586.1L1013.2,597.5L1005.8,594.7L1006.4,586.1ZM991.6,602.1L993.3,603.2L1001.9,631.8L999.6,633.6L993.3,617.5ZM1018.9,637.6L1020.6,646.3L1026.3,665.5L1021.8,660.8L1018.9,649.2ZM1198.1,37.0L1206.7,30.7L1209.5,9.2L1189.6,9.2L1192.4,25.9ZM324.6,25.2L338.2,21.4L355.6,19.4L371.1,11.6L382.8,17.5L394.4,27.2L406.1,38.8L413.9,54.3L410.0,67.9L402.2,77.6L390.6,91.2L400.3,100.9L421.6,108.7L435.2,116.5L448.8,124.2L456.6,133.9L455.6,155.3L452.7,170.8L441.0,170.8L429.4,161.1L425.5,147.5L410.0,133.9L390.6,126.2L382.8,128.1L380.9,147.5L379.9,165.0L386.7,178.6L390.6,194.1L382.8,203.8L375.0,211.6L376.0,242.6L363.4,242.6L355.6,225.2L355.6,209.6L340.1,201.9L324.6,192.2L303.2,186.3L293.5,174.7L285.7,166.9L284.8,151.4L291.6,132.0L303.2,120.3L314.9,110.6L326.5,108.7L328.4,93.2L332.3,77.6L330.4,58.2L325.5,42.7ZM295.5,-3.9L340.1,-3.9L342.0,11.6L338.2,23.3L328.4,34.9L326.5,64.1L318.7,58.2L312.9,38.8L303.2,19.4L295.5,7.8ZM-6.2,-6.2L273.3,-6.2L273.3,0.0L267.1,7.5L253.4,12.4L243.5,19.9L229.8,26.1L221.1,29.8L211.2,36.0L203.7,41.0L192.5,46.0L176.4,53.4L167.7,48.4L165.2,39.8L159.0,36.0L149.1,29.8L139.1,24.8L124.2,23.6L118.0,18.6L111.8,28.6L103.1,16.1L96.9,11.2L87.0,13.7L77.0,19.9L72.0,24.2L49.7,18.6L24.8,21.7L12.4,18.6L-6.2,16.8ZM191.2,165.2L202.6,160.8L219.6,158.6L217.9,161.9L202.6,166.4ZM240.7,194.0L245.2,176.1L247.5,176.1L243.5,191.9ZM266.3,252.1L262.9,238.5L260.0,239.5L263.4,251.2ZM257.7,237.6L254.3,226.4L251.5,227.4L254.9,236.7ZM321.5,258.3L323.7,252.1L319.8,253.0L319.2,257.4ZM405.1,249.4L409.1,242.2L406.8,243.1L403.4,248.5ZM454.6,220.7L461.4,212.0L463.1,214.0L456.9,222.6ZM418.7,75.7L427.3,67.2L429.6,70.1L421.6,78.6ZM245.2,120.7L250.9,113.2L252.6,114.5L247.5,122.0ZM255.5,159.7L261.2,147.1L262.3,148.3L257.2,160.8ZM283.9,262.6L288.5,255.6L289.6,257.4L286.2,263.5ZM238.0,104.0L241.0,102.0L244.0,104.0L241.0,106.0ZM247.5,116.0L250.0,113.0L252.5,116.0L250.0,119.0ZM259.0,109.0L262.0,107.0L265.0,109.0L262.0,111.0ZM268.0,124.0L270.0,121.0L272.0,124.0L270.0,127.0ZM277.0,102.0L280.0,100.0L283.0,102.0L280.0,104.0ZM253.0,130.0L256.0,128.0L259.0,130.0L256.0,132.0ZM273.0,139.0L275.0,137.0L277.0,139.0L275.0,141.0ZM233.0,124.0L235.0,122.0L237.0,124.0L235.0,126.0ZM198.0,94.0L200.0,91.0L202.0,94.0L200.0,97.0ZM183.0,104.0L185.0,102.0L187.0,104.0L185.0,106.0ZM223.0,154.0L225.0,151.0L227.0,154.0L225.0,157.0ZM237.0,174.0L240.0,172.0L243.0,174.0L240.0,176.0ZM338.0,194.0L340.0,192.0L342.0,194.0L340.0,196.0ZM358.0,210.0L360.0,208.0L362.0,210.0L360.0,212.0ZM397.0,202.0L400.0,200.0L403.0,202.0L400.0,204.0ZM418.0,214.0L420.0,211.0L422.0,214.0L420.0,217.0ZM437.0,199.0L440.0,197.0L443.0,199.0L440.0,201.0ZM408.0,184.0L410.0,182.0L412.0,184.0L410.0,186.0Z" fill="#525252" stroke="#6c6c6c" stroke-width="1.5"/><path d="M1118.5,279.6L1127.0,283.8L1127.0,296.0L1115.6,300.0L1117.3,307.9L1124.2,315.7L1125.9,327.1L1128.1,334.6L1131.6,345.6L1132.1,356.4L1121.3,357.9L1104.3,352.9L1103.7,345.6L1106.0,338.3L1109.9,330.9L1104.3,323.4L1097.4,315.7L1095.7,307.9L1091.7,300.0L1095.7,292.0L1104.3,283.8ZM301.6,283.0L310.7,279.6L327.7,283.8L344.2,283.8L343.1,275.4L336.3,271.2L327.7,264.4L316.3,268.7L308.9,275.4ZM339.1,287.9L330.6,289.5L324.9,300.0L326.0,315.7L328.9,322.6L335.1,315.7L334.5,304.0L340.2,293.6ZM345.9,286.3L361.9,289.5L369.3,293.6L370.4,300.0L360.7,309.5L351.6,304.0L351.0,293.6ZM351.0,319.6L361.9,314.9L376.6,312.6L371.5,317.2L360.7,323.4ZM371.5,309.5L378.9,304.8L391.4,302.4L392.0,307.9L378.9,309.5ZM274.8,249.4L274.2,240.4L265.1,218.8L262.9,221.7L269.1,235.8L273.7,248.5ZM162.7,142.5L179.8,136.6L199.7,124.5L194.0,120.7L174.1,130.6L159.9,136.6ZM140.0,92.3L154.2,85.5L151.4,67.2L134.3,71.5L117.2,78.6L125.8,89.6ZM1001.9,154.0L999.0,136.6L1010.4,136.6L1012.1,148.3ZM1024.6,142.5L1021.8,120.7L1030.3,124.5L1030.3,138.9ZM1416.0,240.4L1428.5,231.1L1439.9,221.7L1449.0,199.1L1450.1,202.1L1444.5,221.7L1431.4,233.0L1420.0,237.6ZM1007.5,581.6L1016.1,580.5L1020.1,586.1L1013.2,597.5L1005.8,594.7L1006.4,586.1ZM991.6,602.1L993.3,603.2L1001.9,631.8L999.6,633.6L993.3,617.5ZM1018.9,637.6L1020.6,646.3L1026.3,665.5L1021.8,660.8L1018.9,649.2ZM1198.1,37.0L1206.7,30.7L1209.5,9.2L1189.6,9.2L1192.4,25.9ZM324.6,25.2L338.2,21.4L355.6,19.4L371.1,11.6L382.8,17.5L394.4,27.2L406.1,38.8L413.9,54.3L410.0,67.9L402.2,77.6L390.6,91.2L400.3,100.9L421.6,108.7L435.2,116.5L448.8,124.2L456.6,133.9L455.6,155.3L452.7,170.8L441.0,170.8L429.4,161.1L425.5,147.5L410.0,133.9L390.6,126.2L382.8,128.1L380.9,147.5L379.9,165.0L386.7,178.6L390.6,194.1L382.8,203.8L375.0,211.6L376.0,242.6L363.4,242.6L355.6,225.2L355.6,209.6L340.1,201.9L324.6,192.2L303.2,186.3L293.5,174.7L285.7,166.9L284.8,151.4L291.6,132.0L303.2,120.3L314.9,110.6L326.5,108.7L328.4,93.2L332.3,77.6L330.4,58.2L325.5,42.7ZM295.5,-3.9L340.1,-3.9L342.0,11.6L338.2,23.3L328.4,34.9L326.5,64.1L318.7,58.2L312.9,38.8L303.2,19.4L295.5,7.8ZM-6.2,-6.2L273.3,-6.2L273.3,0.0L267.1,7.5L253.4,12.4L243.5,19.9L229.8,26.1L221.1,29.8L211.2,36.0L203.7,41.0L192.5,46.0L176.4,53.4L167.7,48.4L165.2,39.8L159.0,36.0L149.1,29.8L139.1,24.8L124.2,23.6L118.0,18.6L111.8,28.6L103.1,16.1L96.9,11.2L87.0,13.7L77.0,19.9L72.0,24.2L49.7,18.6L24.8,21.7L12.4,18.6L-6.2,16.8ZM191.2,165.2L202.6,160.8L219.6,158.6L217.9,161.9L202.6,166.4ZM240.7,194.0L245.2,176.1L247.5,176.1L243.5,191.9ZM266.3,252.1L262.9,238.5L260.0,239.5L263.4,251.2ZM257.7,237.6L254.3,226.4L251.5,227.4L254.9,236.7ZM321.5,258.3L323.7,252.1L319.8,253.0L319.2,257.4ZM405.1,249.4L409.1,242.2L406.8,243.1L403.4,248.5ZM454.6,220.7L461.4,212.0L463.1,214.0L456.9,222.6ZM418.7,75.7L427.3,67.2L429.6,70.1L421.6,78.6ZM245.2,120.7L250.9,113.2L252.6,114.5L247.5,122.0ZM255.5,159.7L261.2,147.1L262.3,148.3L257.2,160.8ZM283.9,262.6L288.5,255.6L289.6,257.4L286.2,263.5ZM238.0,104.0L241.0,102.0L244.0,104.0L241.0,106.0ZM247.5,116.0L250.0,113.0L252.5,116.0L250.0,119.0ZM259.0,109.0L262.0,107.0L265.0,109.0L262.0,111.0ZM268.0,124.0L270.0,121.0L272.0,124.0L270.0,127.0ZM277.0,102.0L280.0,100.0L283.0,102.0L280.0,104.0ZM253.0,130.0L256.0,128.0L259.0,130.0L256.0,132.0ZM273.0,139.0L275.0,137.0L277.0,139.0L275.0,141.0ZM233.0,124.0L235.0,122.0L237.0,124.0L235.0,126.0ZM198.0,94.0L200.0,91.0L202.0,94.0L200.0,97.0ZM183.0,104.0L185.0,102.0L187.0,104.0L185.0,106.0ZM223.0,154.0L225.0,151.0L227.0,154.0L225.0,157.0ZM237.0,174.0L240.0,172.0L243.0,174.0L240.0,176.0ZM338.0,194.0L340.0,192.0L342.0,194.0L340.0,196.0ZM358.0,210.0L360.0,208.0L362.0,210.0L360.0,212.0ZM397.0,202.0L400.0,200.0L403.0,202.0L400.0,204.0ZM418.0,214.0L420.0,211.0L422.0,214.0L420.0,217.0ZM437.0,199.0L440.0,197.0L443.0,199.0L440.0,201.0ZM408.0,184.0L410.0,182.0L412.0,184.0L410.0,186.0Z" fill="url(#wv)"/><path d="M1234.7,-4.1L1239.8,12.3L1242.9,20.5L1243.9,41.0L1236.8,59.4L1224.5,70.7L1208.1,69.7" fill="none" stroke="#5a5a5a" stroke-width="6" stroke-linejoin="round" stroke-linecap="round"/><path d="M1245.0,32.8L1257.3,30.7L1265.5,41.0L1267.5,57.4L1273.7,57.4" fill="none" stroke="#5a5a5a" stroke-width="4" stroke-linejoin="round" stroke-linecap="round"/><path d="M1292.1,-4.1L1294.2,12.3L1306.4,22.5L1312.6,30.7L1315.7,51.2L1316.7,69.7" fill="none" stroke="#5a5a5a" stroke-width="4" stroke-linejoin="round" stroke-linecap="round"/><path d="M1322.8,51.2L1337.2,36.9L1345.4,38.9" fill="none" stroke="#5a5a5a" stroke-width="3" stroke-linejoin="round" stroke-linecap="round"/><path d="M1546.3,6.1L1540.1,20.5L1527.8,36.9L1523.7,57.4L1527.8,75.8L1531.9,90.2L1544.2,102.5L1560.6,112.7L1561.6,120.9" fill="none" stroke="#5a5a5a" stroke-width="3" stroke-linejoin="round" stroke-linecap="round"/><path d="M74.5,57.1L87.0,68.3L91.9,74.5L90.7,83.2" fill="none" stroke="#5a5a5a" stroke-width="2.5" stroke-linejoin="round" stroke-linecap="round"/><path d="M100.6,88.2L111.8,96.9L118.0,105.6L124.2,121.7L130.4,131.7" fill="none" stroke="#5a5a5a" stroke-width="2.5" stroke-linejoin="round" stroke-linecap="round"/><path d="M206.2,79.5L211.2,87.0L209.9,99.4L212.4,111.8" fill="none" stroke="#5a5a5a" stroke-width="2.5" stroke-linejoin="round" stroke-linecap="round"/><path d="M125.2,262.6L283.9,262.6L315.8,268.7L333.4,275.4L344.8,283.8L356.2,291.2L356.7,311.8L352.8,317.2L361.9,320.3L374.4,314.9L375.5,307.9L388.6,305.6L400.5,296.0L418.7,296.0L426.1,283.8L431.8,276.3L439.8,278.8L439.8,291.2L444.3,295.2M23.4,24.2L23.4,150.6L43.3,159.7L60.3,167.5L85.9,197.0M159.3,387.6L173.0,386.3L194.0,395.7L210.0,395.7L219.6,392.3L231.0,406.2L238.4,409.5L248.6,405.6L259.5,420.5L272.5,430.0M301.0,499.9L302.1,491.1L310.7,490.5L308.4,480.4L318.6,480.4L323.2,476.2M318.6,480.4L318.1,491.7M312.9,504.0L317.5,500.5L323.7,492.8M326.0,506.4L336.3,502.9L341.9,498.2L352.2,497.0M338.0,519.8L349.3,520.9M353.9,537.1L355.6,528.4M382.3,542.2L385.2,533.6M414.2,515.7L410.8,523.2L410.2,531.9L415.9,543.4L430.1,548.0L441.5,549.1L439.8,560.5L444.9,576.5M377.2,575.3L384.0,578.7L396.0,583.3L397.7,583.9M397.7,583.9L410.2,597.0L427.3,607.2M444.9,576.5L431.3,573.1L430.1,589.0L427.8,607.2M484.2,534.8L478.5,543.4L480.2,553.7L469.9,560.5L458.6,558.8L452.9,577.6L444.9,576.5M500.7,549.7L504.1,571.9M518.3,550.8L515.5,570.2M469.9,560.5L487.0,574.8L504.1,571.9L515.5,570.2L532.0,559.4M368.7,602.7L373.2,608.9L380.1,600.4L390.3,597.5L397.7,583.9M427.8,607.2L405.7,624.9L413.1,637.6L424.4,646.3L430.1,646.3M430.1,646.3L434.7,655.0L431.3,672.6L430.1,684.4L425.0,689.5M430.1,646.3L454.0,640.5L455.7,652.1L475.6,660.8L483.0,677.3L494.4,684.4L496.7,695.2M430.1,684.4L434.1,693.4L437.5,705.5L439.8,716.6L455.7,711.6L468.2,712.9M468.2,712.9L473.9,699.5L489.3,695.2L496.7,695.2M439.8,716.6L435.8,727.1L435.8,742.9L427.3,762.3L427.3,782.4L423.9,803.1L421.6,824.6L417.0,847.0M468.2,712.9L478.5,724.0L497.8,732.1L492.1,744.8L506.9,745.5L514.9,736.6M496.7,695.2L496.1,712.3L508.1,714.7L516.6,724.0L514.9,733.4M514.9,733.4L520.0,737.8L519.4,744.2L509.8,749.3L497.8,763.7L493.8,782.4L493.3,790.6M497.8,763.7L509.8,768.9L522.9,780.3L521.7,787.1M813.0,369.8L818.7,391.0L804.5,394.3L794.2,404.3L776.0,410.8L776.0,419.2L750.4,419.2M776.0,419.2L776.0,430.0L757.2,430.0L757.2,445.7L751.5,459.2L729.4,459.2M776.0,421.8L788.5,436.3L798.2,436.3L818.7,456.2L844.3,472.6L850.0,468.3L871.0,458.0L890.9,445.7L882.4,436.3L881.8,426.9L879.5,402.9M874.4,356.4L872.7,370.5L869.9,380.8L876.7,391.0L879.5,402.9L883.5,391.0L890.9,382.9M968.3,393.7L967.2,407.5L967.7,455.0L962.0,467.1L962.0,470.2L916.0,446.3L906.3,451.9L890.9,445.7M967.7,455.0L1035.4,455.0M798.2,436.3L794.2,494.0L760.6,494.0L756.1,498.2L732.2,488.1M756.1,498.2L760.6,511.0L730.5,511.6M760.6,511.6L777.1,513.4L778.9,526.1L782.8,534.8L777.1,540.5L782.8,554.8M747.6,511.6L740.7,520.9M765.8,529.0L761.2,540.5L760.6,544.0M782.8,534.8L766.9,534.8L755.0,526.7M807.9,554.2L810.1,529.0L809.6,520.3M832.3,548.5L825.5,519.8M834.6,548.0L830.6,520.3M840.9,546.8L840.9,531.9L846.0,517.4L848.3,505.8M848.3,505.8L862.5,508.1L879.5,504.0L902.9,506.9M873.9,557.7L888.1,546.2L896.6,534.8L900.6,526.1L905.7,508.7M845.4,497.0L824.4,497.0L801.0,505.2L794.2,517.4L794.2,526.1L799.9,523.2L810.1,529.0M809.6,520.3L825.5,519.8L830.6,520.3L846.0,517.4M824.4,497.0L845.4,497.0L849.4,480.4L844.3,472.6M902.9,506.9L913.1,494.0L914.8,467.1L916.0,446.3M962.0,470.2L956.3,492.8L952.9,512.8L956.3,526.1M956.3,526.1L939.3,531.9L919.4,540.5L913.7,540.5L910.8,560.5L916.5,570.8M931.3,560.5L950.7,557.1L964.9,554.8L981.4,553.7L956.3,526.1M962.0,526.1L976.3,528.4L990.5,527.3L1001.9,525.0L1011.5,513.4L1018.9,511.6L1020.6,526.1L1014.4,537.6L1027.5,554.8M1045.1,479.8L1032.6,500.5L1031.4,511.6L1018.9,511.6M1032.6,500.5L1044.5,498.2L1066.7,511.6M1069.0,520.3L1075.8,531.9L1098.6,537.6L1098.0,555.4L1081.5,560.5L1063.9,560.5M1018.9,557.1L1041.7,563.4L1063.9,560.5L1062.2,592.4M1027.5,554.8L1018.9,557.1L999.0,563.4L981.9,557.7M1018.9,559.4L1024.6,577.6L1018.9,589.0L1048.5,610.1M1055.3,643.4L1038.8,649.2L1024.0,649.7M1018.9,589.0L999.0,589.0L993.9,589.0L999.0,563.4M999.0,589.0L1000.7,600.4L993.3,608.9M1001.9,630.7L1013.2,637.0L1024.0,649.7M996.2,630.7L987.6,646.3L993.3,652.1L990.5,660.8L973.4,649.2L963.7,646.3L952.4,645.7M895.5,617.5L919.4,616.4L925.1,624.9L936.4,629.0L949.5,623.2L952.4,645.7M952.4,645.7L950.7,657.9L950.7,675.5L958.6,685.0M892.6,683.2L906.3,683.8L930.7,683.8L945.0,686.8L958.6,685.0L969.4,686.2M945.0,686.8L962.0,687.4L939.3,711.6L939.3,728.4L939.3,741.6M919.4,753.2L939.3,754.5L939.3,741.6L967.7,734.0L979.1,727.1L992.2,712.9M969.4,686.2L973.4,699.5L992.2,712.9M969.4,686.2L987.6,678.5L998.4,673.2M998.4,673.2L1012.7,678.5L1013.2,696.4L1003.6,712.9L1007.0,735.3L1012.7,741.6M1013.2,660.8L1001.9,666.7L998.4,673.2M1013.2,637.0L1013.2,660.8L1021.8,666.7L1025.7,681.5L1029.7,669.6L1024.0,649.7M889.2,606.1L890.9,597.5L905.1,594.7L905.1,577.6L901.2,570.8M881.3,570.8L901.2,570.8L916.5,570.8M880.1,577.6L889.8,577.6L889.8,570.8M893.8,610.6L912.5,607.8L925.1,589.0L927.9,571.9L931.3,560.5M979.1,753.2L992.2,759.1L985.9,766.3L980.2,759.1L979.1,753.2M732.2,488.1L756.1,498.7M730.5,512.8L747.0,508.1L739.0,505.2M815.3,308.7L829.5,314.2L843.7,316.5M778.9,319.6L788.5,320.3L786.2,327.1L784.0,338.3L785.7,347.8L783.4,355.0M839.7,244.0L849.4,251.2L852.8,255.6L858.5,258.3L863.6,260.9L872.1,262.6L868.7,274.6M868.7,274.6L860.2,286.3L865.3,287.9L868.7,302.4L868.2,305.6M844.8,241.3L853.9,240.4L857.9,246.7M866.5,223.6L865.3,233.9L859.6,244.9L859.6,246.7L860.2,258.3M874.4,209.1L881.8,209.1M906.3,216.9L908.6,231.1L910.8,244.9L894.9,251.2L902.3,262.6L904.0,266.1M904.0,266.1L899.5,275.4L885.2,275.4L880.1,274.6L868.7,274.6M880.1,274.6L884.7,283.8L876.7,287.9L865.3,287.9M884.7,283.8L895.5,282.1L903.4,283.0L916.5,283.0L917.1,281.3L922.2,273.8L922.8,271.2M904.0,266.1L910.8,262.6L921.6,266.1L922.8,271.2M910.8,244.9L919.4,251.2L930.7,253.9L933.0,258.3M921.6,266.1L933.0,258.3M933.0,258.3L953.5,261.8L962.0,249.4L959.8,239.5L959.2,231.1L959.2,216.9L955.2,213.0L937.0,213.0M922.8,271.2L932.5,272.1L942.1,268.7L951.2,266.9L953.5,261.8M955.8,271.2L941.0,286.3L933.0,288.7L919.4,283.8L917.1,281.3M955.8,271.2L964.9,271.2L976.8,269.5L984.8,279.6L985.9,292.0M976.8,269.5L981.9,266.9L993.3,275.4L996.2,283.8L985.9,292.0M954.6,302.4L970.6,306.4L981.9,304.0L988.2,306.4M941.0,286.3L947.2,296.0L953.5,299.2L954.6,302.4M954.6,302.4L952.9,317.2L955.8,324.9L964.9,322.6L974.0,321.8L981.9,319.6L984.8,318.8M974.0,321.8L973.4,327.9M955.8,324.9L945.0,327.9L942.1,334.6L939.3,337.6M937.6,314.9L942.1,327.1M933.0,288.7L934.7,296.0L936.4,304.0L933.6,311.8L930.7,315.7M915.4,294.4L933.6,295.2M902.9,292.0L913.7,288.7L919.4,283.8M903.4,283.0L903.4,291.2M945.0,196.0L962.0,194.0L976.8,200.1M963.7,178.3L981.4,181.5M984.8,160.8L981.4,181.5L985.9,197.0M959.2,216.9L971.7,212.0L976.8,200.1M985.9,197.0L1001.9,216.9L1006.4,235.8M959.8,239.5L973.4,240.4L987.6,236.7L999.0,240.4L1006.4,235.8M1006.4,235.8L1013.2,233.0L1021.8,235.8L1030.3,249.4L1041.7,253.9L1053.1,271.2L1043.4,278.8M983.7,148.3L993.3,130.6L995.0,105.5L993.3,78.6L987.6,49.4L989.3,33.9L990.5,21.0M963.2,81.3L959.2,56.9L950.7,41.7L942.7,33.9M942.7,33.9L946.7,29.1L956.3,33.9L976.3,21.0L990.5,19.3L1001.9,21.0M890.9,165.2L897.2,142.5L895.5,111.9L905.1,92.3L913.7,71.5L927.9,49.4L942.7,33.9M1104.3,283.8L1091.2,266.9L1095.7,249.4L1109.9,240.4L1132.7,244.9L1158.3,244.9L1172.5,249.4L1172.5,226.4L1195.3,216.9L1223.7,207.1L1240.8,216.9L1260.7,216.9L1269.2,235.8L1280.6,244.9L1297.7,246.7L1309.1,258.3L1322.1,262.6M1322.1,262.6L1337.5,251.2L1348.9,249.4L1363.1,253.9L1380.2,249.4L1385.9,237.6L1405.8,235.8L1428.5,251.2L1442.7,251.2L1451.3,258.3L1474.0,254.8L1488.3,253.9L1495.7,258.3M1495.7,258.3L1502.5,258.3L1505.3,249.4L1516.7,223.6L1536.6,221.7L1548.0,235.8L1550.8,262.6L1567.9,271.2L1582.1,275.4M1322.1,262.6L1325.0,261.8L1337.5,275.4L1342.1,292.0L1357.4,296.0L1374.5,315.7L1394.4,313.4L1422.8,319.6L1439.9,321.1L1451.3,315.7L1459.8,307.9L1462.7,296.0L1479.7,292.0L1493.9,283.8L1505.3,275.4L1495.7,258.3M1325.0,261.8L1297.7,279.6L1294.8,294.4L1280.6,296.0L1281.7,313.4L1252.2,315.7L1229.4,311.8L1218.0,327.1L1201.0,327.1L1178.2,307.9L1158.3,296.0L1144.1,296.0L1124.2,323.4M1158.3,296.0L1164.0,307.9L1169.7,323.4L1181.1,334.6L1192.4,345.6L1203.8,354.3M1132.1,354.3L1152.6,349.3L1172.5,360.0L1174.2,367.0M1174.2,367.0L1170.2,384.2L1177.1,397.7L1172.0,405.6M1172.0,405.6L1189.6,407.5L1206.7,404.3L1220.9,394.3L1223.7,380.8L1229.4,374.0L1232.3,363.5L1249.3,356.4M1174.2,367.0L1183.9,363.5L1203.8,354.3L1212.3,355.0L1223.7,352.9L1249.3,356.4M1218.0,327.1L1226.6,334.6L1243.6,338.3L1252.2,330.9L1269.2,323.4L1281.7,313.4M1212.3,338.3L1243.6,338.3M1175.9,435.1L1183.9,423.7L1172.0,405.6M1213.5,444.5L1229.4,439.5L1226.6,417.3L1243.6,404.3L1252.2,387.6L1266.4,370.5M1249.3,356.4L1257.9,363.5L1269.2,367.0L1274.9,380.8L1274.9,397.7L1286.3,404.3M1286.3,404.3L1303.4,417.3L1326.1,426.9M1286.3,404.3L1314.7,417.3L1326.7,418.6M1331.8,455.0L1327.3,442.6L1334.7,435.1L1348.9,436.3L1346.0,445.7L1350.6,458.0M1350.6,458.0L1357.4,442.6L1367.1,426.9L1379.0,415.3M1326.7,418.6L1348.9,420.5L1371.6,414.0L1379.0,415.3M1379.0,415.3L1383.0,436.3L1385.9,442.6L1391.5,455.0L1400.1,458.0L1400.1,455.0M1395.0,465.9L1380.2,476.2L1385.9,488.1L1388.7,505.8L1385.9,526.1M1400.1,455.0L1411.5,451.9L1428.5,450.0L1439.9,457.4M1395.0,465.9L1402.9,482.2L1417.1,479.2L1425.7,491.1L1425.7,501.1M1411.5,451.9L1417.1,467.1L1428.5,482.2L1437.1,497.0L1437.1,499.9M1425.7,501.1L1411.5,499.9L1408.6,505.8L1408.6,514.5M1437.1,499.9L1428.5,514.5L1420.0,523.2M1394.4,546.2L1405.8,549.1M1567.9,315.7L1553.7,319.6L1533.2,334.6M1542.3,351.4L1555.4,345.6M1030.9,359.3L1038.8,357.9L1053.1,356.4L1066.7,355.7L1080.4,354.3L1078.7,338.3L1080.4,336.9M1062.2,323.4L1073.0,325.6L1074.1,334.6L1080.4,336.9M1053.1,307.9L1078.7,314.2L1090.0,321.1L1101.4,320.3M1073.0,325.6L1081.5,327.1L1090.0,321.1M1081.5,327.1L1090.0,342.0M1080.4,336.9L1090.0,342.7L1098.6,345.6L1103.7,346.4M1080.4,354.3L1087.2,367.0L1087.2,380.8L1095.7,391.0L1101.4,404.3M1066.7,355.7L1058.7,374.0L1046.2,381.5L1048.5,389.6L1064.4,397.7L1090.0,410.8L1096.9,410.1M1048.5,389.6L1033.1,407.5L1024.0,408.2M1029.2,389.0L1046.2,381.5M1020.1,395.7L1024.0,407.5M1024.0,407.5L1028.0,386.3L1029.2,383.6L1032.0,373.3M1069.0,488.1L1075.8,482.2L1092.9,483.4L1121.3,473.2L1141.2,451.9L1121.3,442.6M1121.3,473.2L1127.6,487.5M1141.2,451.9L1144.1,442.6L1145.2,433.2" stroke="#d0d0d0" stroke-opacity="0.85" stroke-width="2.2" fill="none" stroke-linejoin="round"/><circle cx="553.7" cy="728.2" r="12.6" fill="#800026" fill-opacity="0.78" stroke="#4a0014" stroke-width="2.6"/><circle cx="267.1" cy="351.4" r="15.8" fill="#fc4e2a" fill-opacity="0.78" stroke="#c40a0a" stroke-width="2.6"/><circle cx="150.0" cy="374.7" r="15.4" fill="#fc4e2a" fill-opacity="0.78" stroke="#c40a0a" stroke-width="2.6"/><circle cx="401.2" cy="557.9" r="11.7" fill="#fc4e2a" fill-opacity="0.78" stroke="#c40a0a" stroke-width="2.6"/><circle cx="842.4" cy="268.0" r="19.7" fill="#fc4e2a" fill-opacity="0.78" stroke="#c40a0a" stroke-width="2.6"/><circle cx="987.5" cy="736.5" r="14.4" fill="#fc4e2a" fill-opacity="0.78" stroke="#c40a0a" stroke-width="2.6"/><circle cx="394.4" cy="335.3" r="15.8" fill="#fd9e43" fill-opacity="0.78" stroke="#c46a0c" stroke-width="2.6"/><circle cx="385.7" cy="652.7" r="13.6" fill="#fd9e43" fill-opacity="0.78" stroke="#c46a0c" stroke-width="2.6"/><circle cx="577.6" cy="718.0" r="13.6" fill="#fd9e43" fill-opacity="0.78" stroke="#c46a0c" stroke-width="2.6"/><circle cx="470.3" cy="723.0" r="13.6" fill="#fd9e43" fill-opacity="0.78" stroke="#c46a0c" stroke-width="2.6"/><circle cx="530.6" cy="760.9" r="13.6" fill="#fd9e43" fill-opacity="0.78" stroke="#c46a0c" stroke-width="2.6"/><circle cx="490.8" cy="800.2" r="13.6" fill="#fd9e43" fill-opacity="0.78" stroke="#c46a0c" stroke-width="2.6"/><circle cx="852.8" cy="231.6" r="19.3" fill="#fd9e43" fill-opacity="0.78" stroke="#c46a0c" stroke-width="2.6"/><circle cx="796.4" cy="332.0" r="15.8" fill="#fd9e43" fill-opacity="0.78" stroke="#c46a0c" stroke-width="2.6"/><circle cx="1512.6" cy="445.1" r="13.8" fill="#fd9e43" fill-opacity="0.78" stroke="#c46a0c" stroke-width="2.6"/><circle cx="1473.2" cy="453.6" r="13.8" fill="#fd9e43" fill-opacity="0.78" stroke="#c46a0c" stroke-width="2.6"/><circle cx="189.7" cy="189.1" r="23.8" fill="#fed976" fill-opacity="0.78" stroke="#c3a33f" stroke-width="2.6"/><circle cx="125.5" cy="261.1" r="19.6" fill="#fed976" fill-opacity="0.78" stroke="#c3a33f" stroke-width="2.6"/><circle cx="157.8" cy="385.4" r="15.4" fill="#fed976" fill-opacity="0.78" stroke="#c3a33f" stroke-width="2.6"/><circle cx="223.7" cy="416.4" r="13.8" fill="#fed976" fill-opacity="0.78" stroke="#c3a33f" stroke-width="2.6"/><circle cx="280.1" cy="404.0" r="13.8" fill="#fed976" fill-opacity="0.78" stroke="#c3a33f" stroke-width="2.6"/><circle cx="235.0" cy="463.4" r="13.2" fill="#fed976" fill-opacity="0.78" stroke="#c3a33f" stroke-width="2.6"/><circle cx="366.6" cy="307.9" r="17.6" fill="#fed976" fill-opacity="0.78" stroke="#c3a33f" stroke-width="2.6"/><circle cx="405.0" cy="291.5" r="17.6" fill="#fed976" fill-opacity="0.78" stroke="#c3a33f" stroke-width="2.6"/><circle cx="376.4" cy="360.9" r="15.4" fill="#fed976" fill-opacity="0.78" stroke="#c3a33f" stroke-width="2.6"/><circle cx="342.0" cy="379.8" r="15.4" fill="#fed976" fill-opacity="0.78" stroke="#c3a33f" stroke-width="2.6"/><circle cx="351.5" cy="372.8" r="15.4" fill="#fed976" fill-opacity="0.78" stroke="#c3a33f" stroke-width="2.6"/><circle cx="383.9" cy="435.8" r="13.3" fill="#fed976" fill-opacity="0.78" stroke="#c3a33f" stroke-width="2.6"/><circle cx="304.4" cy="494.6" r="13.2" fill="#fed976" fill-opacity="0.78" stroke="#c3a33f" stroke-width="2.6"/><circle cx="327.5" cy="502.1" r="13.2" fill="#fed976" fill-opacity="0.78" stroke="#c3a33f" stroke-width="2.6"/><circle cx="431.7" cy="514.5" r="13.6" fill="#fed976" fill-opacity="0.78" stroke="#c3a33f" stroke-width="2.6"/><circle cx="474.1" cy="525.7" r="13.6" fill="#fed976" fill-opacity="0.78" stroke="#c3a33f" stroke-width="2.6"/><circle cx="400.0" cy="545.5" r="11.7" fill="#fed976" fill-opacity="0.78" stroke="#c3a33f" stroke-width="2.6"/><circle cx="372.6" cy="598.8" r="11.7" fill="#fed976" fill-opacity="0.78" stroke="#c3a33f" stroke-width="2.6"/><circle cx="588.3" cy="602.4" r="11.7" fill="#fed976" fill-opacity="0.78" stroke="#c3a33f" stroke-width="2.6"/><circle cx="599.7" cy="625.0" r="11.7" fill="#fed976" fill-opacity="0.78" stroke="#c3a33f" stroke-width="2.6"/><circle cx="447.2" cy="654.4" r="13.6" fill="#fed976" fill-opacity="0.78" stroke="#c3a33f" stroke-width="2.6"/><circle cx="543.2" cy="679.9" r="13.6" fill="#fed976" fill-opacity="0.78" stroke="#c3a33f" stroke-width="2.6"/><circle cx="423.9" cy="690.6" r="13.6" fill="#fed976" fill-opacity="0.78" stroke="#c3a33f" stroke-width="2.6"/><circle cx="551.3" cy="708.4" r="13.6" fill="#fed976" fill-opacity="0.78" stroke="#c3a33f" stroke-width="2.6"/><circle cx="589.5" cy="702.3" r="13.6" fill="#fed976" fill-opacity="0.78" stroke="#c3a33f" stroke-width="2.6"/><circle cx="458.7" cy="772.3" r="15.5" fill="#fed976" fill-opacity="0.78" stroke="#c3a33f" stroke-width="2.6"/><circle cx="422.4" cy="786.1" r="15.5" fill="#fed976" fill-opacity="0.78" stroke="#c3a33f" stroke-width="2.6"/><circle cx="504.4" cy="795.6" r="15.5" fill="#fed976" fill-opacity="0.78" stroke="#c3a33f" stroke-width="2.6"/><circle cx="406.7" cy="819.0" r="13.6" fill="#fed976" fill-opacity="0.78" stroke="#c3a33f" stroke-width="2.6"/><circle cx="686.3" cy="490.3" r="13.2" fill="#fed976" fill-opacity="0.78" stroke="#c3a33f" stroke-width="2.6"/><circle cx="814.6" cy="233.0" r="19.7" fill="#fed976" fill-opacity="0.78" stroke="#c3a33f" stroke-width="2.6"/><circle cx="895.4" cy="272.1" r="19.3" fill="#fed976" fill-opacity="0.78" stroke="#c3a33f" stroke-width="2.6"/><circle cx="893.1" cy="310.8" r="17.7" fill="#fed976" fill-opacity="0.78" stroke="#c3a33f" stroke-width="2.6"/><circle cx="943.2" cy="233.5" r="19.7" fill="#fed976" fill-opacity="0.78" stroke="#c3a33f" stroke-width="2.6"/><circle cx="996.2" cy="155.0" r="25.6" fill="#fed976" fill-opacity="0.78" stroke="#c3a33f" stroke-width="2.6"/><circle cx="1038.0" cy="199.6" r="21.6" fill="#fed976" fill-opacity="0.78" stroke="#c3a33f" stroke-width="2.6"/><circle cx="1023.3" cy="267.6" r="19.7" fill="#fed976" fill-opacity="0.78" stroke="#c3a33f" stroke-width="2.6"/><circle cx="994.4" cy="321.0" r="17.7" fill="#fed976" fill-opacity="0.78" stroke="#c3a33f" stroke-width="2.6"/><circle cx="875.4" cy="378.0" r="15.6" fill="#fed976" fill-opacity="0.78" stroke="#c3a33f" stroke-width="2.6"/><circle cx="1001.6" cy="404.0" r="13.6" fill="#fed976" fill-opacity="0.78" stroke="#c3a33f" stroke-width="2.6"/><circle cx="1049.0" cy="388.6" r="15.2" fill="#fed976" fill-opacity="0.78" stroke="#c3a33f" stroke-width="2.6"/><circle cx="1094.0" cy="331.3" r="15.4" fill="#fed976" fill-opacity="0.78" stroke="#c3a33f" stroke-width="2.6"/><circle cx="1116.5" cy="366.0" r="15.4" fill="#fed976" fill-opacity="0.78" stroke="#c3a33f" stroke-width="2.6"/><circle cx="1187.5" cy="326.5" r="15.4" fill="#fed976" fill-opacity="0.78" stroke="#c3a33f" stroke-width="2.6"/><circle cx="869.4" cy="526.5" r="12.6" fill="#fed976" fill-opacity="0.78" stroke="#c3a33f" stroke-width="2.6"/><circle cx="962.5" cy="579.0" r="12.6" fill="#fed976" fill-opacity="0.78" stroke="#c3a33f" stroke-width="2.6"/><circle cx="1140.0" cy="610.3" r="12.6" fill="#fed976" fill-opacity="0.78" stroke="#c3a33f" stroke-width="2.6"/><circle cx="1046.9" cy="670.3" r="14.4" fill="#fed976" fill-opacity="0.78" stroke="#c3a33f" stroke-width="2.6"/><circle cx="1022.5" cy="690.3" r="14.4" fill="#fed976" fill-opacity="0.78" stroke="#c3a33f" stroke-width="2.6"/><circle cx="999.4" cy="761.5" r="14.4" fill="#fed976" fill-opacity="0.78" stroke="#c3a33f" stroke-width="2.6"/><circle cx="1261.8" cy="467.6" r="13.8" fill="#fed976" fill-opacity="0.78" stroke="#c3a33f" stroke-width="2.6"/><circle cx="1486.0" cy="335.1" r="15.7" fill="#fed976" fill-opacity="0.78" stroke="#c3a33f" stroke-width="2.6"/><circle cx="1546.0" cy="352.8" r="15.7" fill="#fed976" fill-opacity="0.78" stroke="#c3a33f" stroke-width="2.6"/><circle cx="1507.3" cy="402.3" r="13.8" fill="#fed976" fill-opacity="0.78" stroke="#c3a33f" stroke-width="2.6"/><circle cx="1381.5" cy="455.5" r="13.8" fill="#fed976" fill-opacity="0.78" stroke="#c3a33f" stroke-width="2.6"/><circle cx="1426.0" cy="461.4" r="13.8" fill="#fed976" fill-opacity="0.78" stroke="#c3a33f" stroke-width="2.6"/><circle cx="1395.3" cy="504.9" r="13.8" fill="#fed976" fill-opacity="0.78" stroke="#c3a33f" stroke-width="2.6"/><circle cx="1404.3" cy="568.0" r="12.1" fill="#fed976" fill-opacity="0.78" stroke="#c3a33f" stroke-width="2.6"/><circle cx="1477.6" cy="555.7" r="12.1" fill="#fed976" fill-opacity="0.78" stroke="#c3a33f" stroke-width="2.6"/><circle cx="1568.0" cy="654.0" r="14.4" fill="#fed976" fill-opacity="0.78" stroke="#c3a33f" stroke-width="2.6"/></svg><div class="a" style="left:21px;top:20px;width:51px;height:104px;background:#353535;border-radius:8px;box-shadow:0 3px 6px rgba(0,0,0,0.45)"></div><div class="a" style="left:21px;top:70px;width:51px;height:2px;background:#444"></div><div class="a" style="left:21px;top:144px;width:51px;height:52px;background:#353535;border-radius:8px;box-shadow:0 3px 6px rgba(0,0,0,0.45)"></div><div class="a" style="left:21px;top:216px;width:51px;height:104px;background:#353535;border-radius:8px;box-shadow:0 3px 6px rgba(0,0,0,0.45)"></div><div class="a" style="left:21px;top:267px;width:51px;height:2px;background:#444"></div><svg style="left:0;top:0" width="120" height="340"><path d="M46.5,37 V57 M36.5,47 H56.5" stroke="#e0e0e0" stroke-width="4"/><path d="M37.5,98 H55.5" stroke="#e0e0e0" stroke-width="4"/><path d="M40,159 V177 H57 M35,163 H53 V181" stroke="#e0e0e0" stroke-width="2.6" fill="none"/><path d="M41,177 L58,159" stroke="#e0e0e0" stroke-width="1.2"/><path d="M46,232 L56,239 L53,251 L40,252 L36,240 Z" fill="#e0e0e0"/><rect x="38" y="284" width="16" height="16" fill="#e0e0e0"/></svg><div class="a" style="left:1316px;top:534.5px;width:232px;height:233px;background:rgba(62,62,62,0.38);border-radius:8px"></div><svg style="left:0;top:0" width="1568" height="819"><text x="1333.0" y="573.6" font-size="22" fill="#9a9a9a" font-weight="700">Count</text><circle cx="1341.6" cy="598.2" r="8.8" fill="#ffd978" stroke="#c9a33a" stroke-width="2.4"/><text x="1360.8" y="607.3" font-size="21.8" fill="#9a9a9a">1 – 379.4</text><circle cx="1341.6" cy="632.2" r="8.8" fill="#fe9e45" stroke="#c46a10" stroke-width="2.4"/><text x="1360.8" y="641.3" font-size="21.8" fill="#9a9a9a">379.4 – 757.8</text><circle cx="1341.6" cy="666.1" r="8.8" fill="#ff4f2a" stroke="#c01010" stroke-width="2.4"/><text x="1360.8" y="675.2" font-size="21.8" fill="#9a9a9a">757.8 – 1,136.2</text><circle cx="1341.6" cy="700.0" r="8.8" fill="#d6121e" stroke="#8a0a10" stroke-width="2.4"/><text x="1360.8" y="709.1" font-size="21.8" fill="#9a9a9a">1,136.2 – 1,514.6</text><circle cx="1341.6" cy="734.0" r="8.8" fill="#820022" stroke="#3f0010" stroke-width="2.4"/><text x="1360.8" y="743.1" font-size="21.8" fill="#9a9a9a">1,514.6 – 1,893</text></svg><div class="a" style="left:1025.6999999999998px;top:788.3px;width:542.3000000000002px;height:30.700000000000045px;background:rgba(60,60,60,0.75)"></div><svg style="left:0;top:0" width="1568" height="819"><rect x="1060" y="792" width="156" height="26" fill="#2a2a2a"/><rect x="1351.5" y="792" width="206" height="26" fill="#2a2a2a"/><text x="1036" y="811" font-size="22.3" fill="#8a8a8a">© <tspan fill="#eeeeee">OpenStreetMap</tspan> contributors, <tspan fill="#eeeeee">Elastic Maps Service</tspan></text></svg></div>
</body></html>
